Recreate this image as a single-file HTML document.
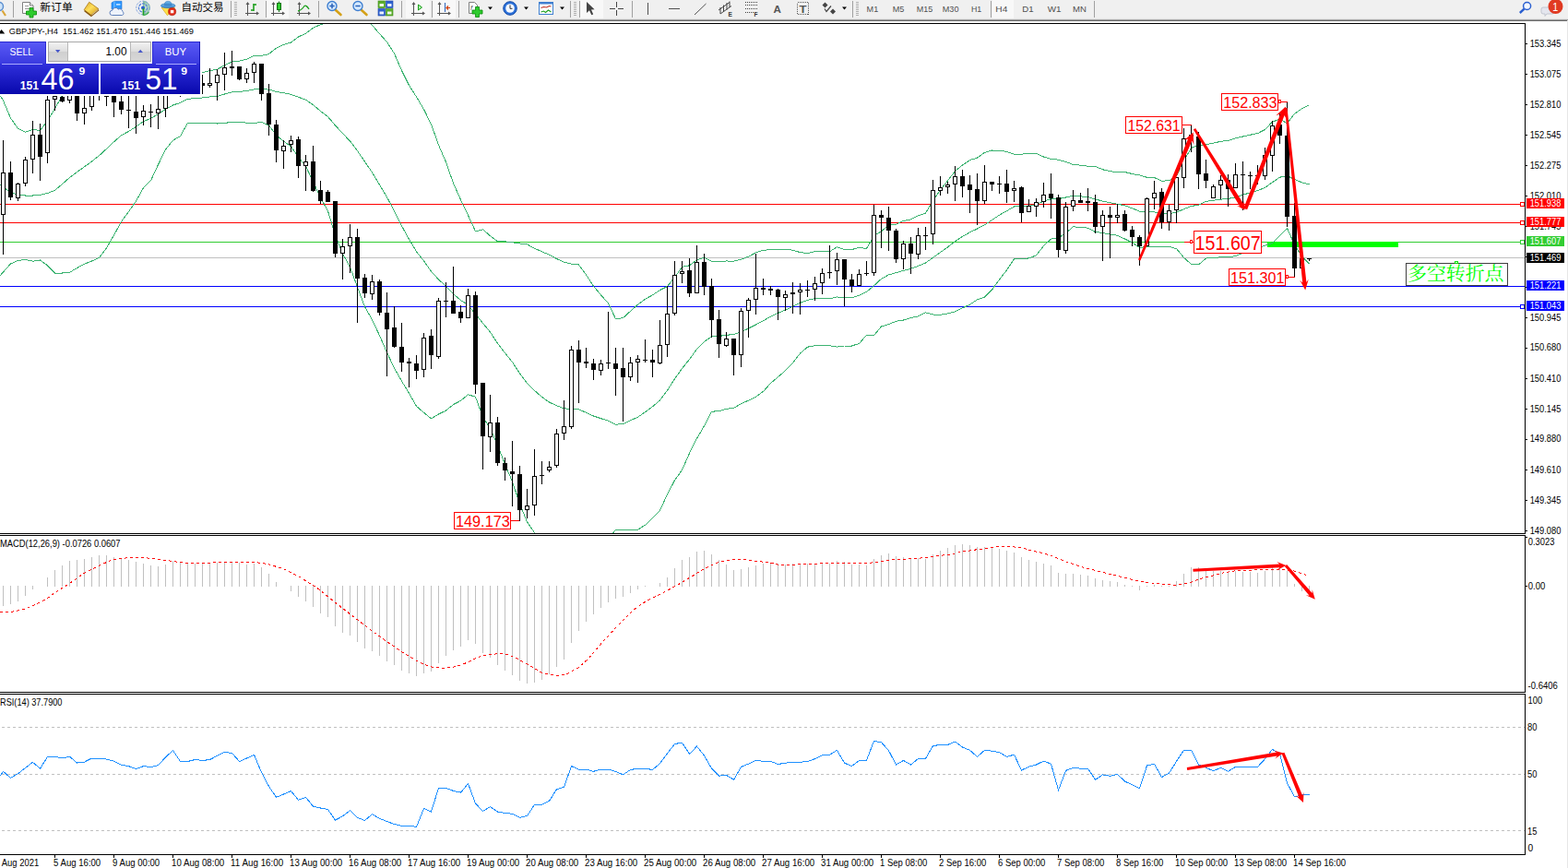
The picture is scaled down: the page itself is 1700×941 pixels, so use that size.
<!DOCTYPE html>
<html><head><meta charset="utf-8"><title>GBPJPY H4</title>
<style>
html,body{margin:0;padding:0;background:#fff;}
body{width:1700px;height:941px;overflow:hidden;position:relative;font-family:"Liberation Sans",sans-serif;}
svg{position:absolute;left:0;top:0;display:block}
svg text{font-family:"Liberation Sans",sans-serif;}
svg text.cjk{font-family:"Liberation Sans","Noto Sans CJK SC",sans-serif;}
svg text.cjkserif{font-family:"Liberation Serif","Noto Serif CJK SC",serif;}
</style></head><body>
<svg width="1700" height="941" viewBox="0 0 1700 941">
<rect x="0" y="0" width="1700" height="941" fill="#fff" />
<g shape-rendering="crispEdges">
<rect x="0" y="221" width="1653" height="1" fill="#ff0000" />
<rect x="0" y="241" width="1653" height="1" fill="#ff0000" />
<rect x="0" y="262" width="1653" height="1" fill="#32cd32" />
<rect x="0" y="279" width="1653" height="1" fill="#c0c0c0" />
<rect x="0" y="310" width="1653" height="1" fill="#0000ff" />
<rect x="0" y="332" width="1653" height="1" fill="#0000ff" />
<rect x="1374" y="262" width="142" height="6" fill="#00ff00" />
</g>
<clipPath id="cm"><rect x="0" y="26" width="1653" height="552"/></clipPath>
<g clip-path="url(#cm)">
<polyline points="0.0,103.0 3.5,109.0 11.5,128.0 19.5,139.4 27.5,143.3 35.5,140.6 43.5,141.3 51.5,131.0 59.5,117.5 67.5,103.7 75.5,95.0 83.5,90.0 91.5,85.0 99.5,80.0 107.5,75.0 115.5,70.0 123.5,68.0 131.5,66.0 139.5,64.0 147.5,62.0 155.5,59.7 163.5,61.0 171.5,68.7 179.5,74.6 187.5,75.7 195.5,75.2 203.5,81.4 211.5,79.8 219.5,78.5 227.5,76.7 235.5,75.1 243.5,70.8 251.5,67.1 259.5,66.1 267.5,64.2 275.5,60.3 283.5,60.3 291.5,58.6 299.5,52.1 307.5,48.4 315.5,46.1 323.5,40.0 331.5,36.2 339.5,30.3 347.5,26.6 355.5,24.3 363.5,16.6 371.5,14.5 379.5,16.3 387.5,15.7 395.5,18.1 403.5,27.4 411.5,36.6 419.5,45.5 427.5,58.0 435.5,76.4 443.5,92.5 451.5,105.1 459.5,118.5 467.5,134.7 475.5,157.1 483.5,175.7 491.5,198.6 499.5,216.6 507.5,233.4 515.5,250.8 523.5,248.8 531.5,255.7 539.5,261.8 547.5,261.9 555.5,262.7 563.5,264.0 571.5,264.9 579.5,269.3 587.5,272.8 595.5,276.2 603.5,280.5 611.5,284.2 619.5,286.1 627.5,287.0 635.5,297.9 643.5,310.3 651.5,319.8 659.5,328.7 667.5,345.7 675.5,344.7 683.5,337.3 691.5,330.3 699.5,324.2 707.5,319.9 715.5,314.5 723.5,310.5 731.5,300.6 739.5,289.4 747.5,287.8 755.5,281.7 763.5,279.2 771.5,283.4 779.5,283.2 787.5,283.0 795.5,283.1 803.5,281.3 811.5,278.2 819.5,273.9 827.5,271.2 835.5,270.7 843.5,270.4 851.5,270.3 859.5,271.2 867.5,273.6 875.5,274.6 883.5,272.7 891.5,272.5 899.5,272.8 907.5,267.7 915.5,270.7 923.5,270.6 931.5,268.2 939.5,269.5 947.5,255.8 955.5,250.7 963.5,244.2 971.5,243.1 979.5,239.5 987.5,237.9 995.5,233.8 1003.5,231.0 1011.5,217.6 1019.5,206.0 1027.5,195.8 1035.5,185.5 1043.5,178.9 1051.5,173.6 1059.5,171.1 1067.5,165.4 1075.5,163.0 1083.5,163.2 1091.5,164.4 1099.5,167.1 1107.5,167.1 1115.5,166.7 1123.5,166.5 1131.5,170.0 1139.5,172.4 1147.5,173.2 1155.5,175.4 1163.5,178.5 1171.5,179.1 1179.5,180.2 1187.5,180.4 1195.5,183.8 1203.5,185.5 1211.5,187.0 1219.5,186.5 1227.5,188.5 1235.5,189.9 1243.5,192.3 1251.5,192.5 1259.5,196.1 1267.5,195.9 1275.5,190.6 1283.5,174.2 1291.5,160.4 1299.5,157.4 1307.5,156.7 1315.5,155.2 1323.5,153.3 1331.5,152.4 1339.5,149.9 1347.5,148.0 1355.5,146.2 1363.5,144.6 1371.5,140.5 1379.5,132.1 1387.5,129.1 1395.5,133.8 1403.5,123.3 1411.5,117.8 1419.5,113.9" fill="none" stroke="#3cb371" stroke-width="1" shape-rendering="crispEdges"/>
<polyline points="0.0,200.4 3.5,203.0 11.5,208.5 19.5,211.0 27.5,212.0 35.5,212.0 43.5,211.4 51.5,209.5 59.5,206.3 67.5,199.5 75.5,192.5 83.5,186.5 91.5,180.8 99.5,175.0 107.5,168.7 115.5,161.3 123.5,153.8 131.5,146.7 139.5,142.5 147.5,137.3 155.5,131.7 163.5,128.4 171.5,123.6 179.5,118.4 187.5,114.0 195.5,111.4 203.5,107.4 211.5,106.6 219.5,106.0 227.5,105.0 235.5,104.6 243.5,102.0 251.5,99.9 259.5,99.4 267.5,98.6 275.5,96.9 283.5,96.4 291.5,97.2 299.5,99.3 307.5,100.8 315.5,102.4 323.5,105.3 331.5,108.1 339.5,113.7 347.5,120.4 355.5,126.6 363.5,135.9 371.5,144.7 379.5,152.9 387.5,163.5 395.5,175.3 403.5,186.9 411.5,200.2 419.5,213.7 427.5,228.6 435.5,244.8 443.5,259.4 451.5,272.8 459.5,282.9 467.5,294.3 475.5,303.0 483.5,310.4 491.5,318.6 499.5,325.5 507.5,330.6 515.5,340.5 523.5,350.4 531.5,360.0 539.5,372.2 547.5,382.7 555.5,392.5 563.5,404.9 571.5,415.4 579.5,423.4 587.5,430.4 595.5,436.0 603.5,439.8 611.5,442.8 619.5,443.5 627.5,443.9 635.5,447.3 643.5,451.0 651.5,453.7 659.5,456.2 667.5,460.1 675.5,459.8 683.5,455.7 691.5,452.3 699.5,446.7 707.5,440.9 715.5,433.9 723.5,423.2 731.5,410.7 739.5,399.5 747.5,389.6 755.5,378.5 763.5,370.5 771.5,364.8 779.5,364.5 787.5,363.2 795.5,362.7 803.5,359.6 811.5,356.1 819.5,352.0 827.5,347.8 835.5,343.1 843.5,339.5 851.5,336.0 859.5,332.3 867.5,328.4 875.5,325.4 883.5,323.7 891.5,323.6 899.5,323.8 907.5,321.9 915.5,322.9 923.5,322.8 931.5,320.3 939.5,316.4 947.5,309.7 955.5,302.3 963.5,297.9 971.5,295.7 979.5,293.3 987.5,291.3 995.5,288.3 1003.5,285.0 1011.5,279.3 1019.5,273.6 1027.5,267.9 1035.5,261.7 1043.5,256.4 1051.5,251.9 1059.5,248.0 1067.5,243.8 1075.5,238.6 1083.5,233.1 1091.5,228.7 1099.5,224.0 1107.5,223.9 1115.5,223.3 1123.5,221.7 1131.5,218.2 1139.5,215.7 1147.5,215.6 1155.5,214.0 1163.5,212.1 1171.5,212.8 1179.5,213.7 1187.5,215.9 1195.5,218.1 1203.5,219.8 1211.5,221.2 1219.5,222.8 1227.5,225.8 1235.5,229.1 1243.5,229.9 1251.5,229.9 1259.5,231.8 1267.5,231.6 1275.5,230.1 1283.5,226.7 1291.5,223.5 1299.5,222.2 1307.5,218.4 1315.5,217.3 1323.5,216.1 1331.5,215.4 1339.5,213.8 1347.5,211.1 1355.5,208.9 1363.5,206.6 1371.5,203.4 1379.5,197.7 1387.5,192.2 1395.5,190.6 1403.5,194.4 1411.5,197.9 1419.5,199.9" fill="none" stroke="#3cb371" stroke-width="1" shape-rendering="crispEdges"/>
<polyline points="0.0,298.8 3.5,295.0 11.5,286.0 19.5,282.5 27.5,281.5 35.5,283.2 43.5,282.0 51.5,287.8 59.5,296.0 67.5,296.0 75.5,295.3 83.5,290.5 91.5,286.2 99.5,283.0 107.5,279.5 115.5,269.0 123.5,255.0 131.5,240.4 139.5,229.5 147.5,218.0 155.5,203.7 163.5,195.8 171.5,178.5 179.5,162.2 187.5,152.2 195.5,147.6 203.5,133.3 211.5,133.4 219.5,133.5 227.5,133.3 235.5,134.0 243.5,133.2 251.5,132.7 259.5,132.7 267.5,133.1 275.5,133.5 283.5,132.5 291.5,135.8 299.5,146.6 307.5,153.2 315.5,158.7 323.5,170.5 331.5,180.1 339.5,197.2 347.5,214.2 355.5,228.8 363.5,255.2 371.5,274.9 379.5,289.5 387.5,311.3 395.5,332.6 403.5,346.5 411.5,363.8 419.5,382.0 427.5,399.2 435.5,413.2 443.5,426.3 451.5,440.4 459.5,447.3 467.5,453.9 475.5,449.0 483.5,445.1 491.5,438.6 499.5,434.4 507.5,427.8 515.5,430.2 523.5,452.1 531.5,464.3 539.5,482.7 547.5,503.4 555.5,522.2 563.5,545.8 571.5,565.9 579.5,577.4 587.5,587.9 595.5,595.9 603.5,599.2 611.5,601.5 619.5,600.9 627.5,600.8 635.5,596.6 643.5,591.6 651.5,587.6 659.5,583.6 667.5,574.6 675.5,574.8 683.5,574.2 691.5,574.2 699.5,569.2 707.5,561.8 715.5,553.3 723.5,535.9 731.5,520.7 739.5,509.6 747.5,491.3 755.5,475.3 763.5,461.8 771.5,446.2 779.5,445.7 787.5,443.4 795.5,442.3 803.5,437.8 811.5,434.1 819.5,430.2 827.5,424.4 835.5,415.5 843.5,408.6 851.5,401.8 859.5,393.5 867.5,383.1 875.5,376.2 883.5,374.7 891.5,374.8 899.5,374.7 907.5,376.1 915.5,375.0 923.5,375.0 931.5,372.4 939.5,363.4 947.5,363.7 955.5,353.9 963.5,351.6 971.5,348.3 979.5,347.0 987.5,344.7 995.5,342.8 1003.5,338.9 1011.5,341.0 1019.5,341.2 1027.5,339.9 1035.5,337.8 1043.5,333.9 1051.5,330.2 1059.5,324.9 1067.5,322.2 1075.5,314.2 1083.5,303.0 1091.5,292.9 1099.5,280.9 1107.5,280.8 1115.5,279.9 1123.5,276.9 1131.5,266.5 1139.5,259.1 1147.5,257.9 1155.5,252.7 1163.5,245.8 1171.5,246.5 1179.5,247.1 1187.5,251.5 1195.5,252.4 1203.5,254.1 1211.5,255.3 1219.5,259.0 1227.5,263.0 1235.5,268.4 1243.5,267.4 1251.5,267.3 1259.5,267.5 1267.5,267.4 1275.5,269.6 1283.5,279.3 1291.5,286.5 1299.5,286.9 1307.5,280.1 1315.5,279.3 1323.5,278.9 1331.5,278.4 1339.5,277.8 1347.5,274.1 1355.5,271.7 1363.5,268.6 1371.5,266.3 1379.5,263.3 1387.5,255.3 1395.5,247.3 1403.5,265.5 1411.5,278.1 1419.5,285.9" fill="none" stroke="#3cb371" stroke-width="1" shape-rendering="crispEdges"/>
</g>
<g shape-rendering="crispEdges">
<rect x="3" y="152" width="1" height="124" fill="#000" />
<rect x="1" y="187" width="5" height="46" fill="#000" />
<rect x="2" y="188" width="3" height="44" fill="#fff" />
<rect x="11" y="175" width="1" height="42" fill="#000" />
<rect x="9" y="187" width="5" height="27" fill="#000" />
<rect x="19" y="198" width="1" height="20" fill="#000" />
<rect x="17" y="199" width="5" height="16" fill="#000" />
<rect x="18" y="200" width="3" height="14" fill="#fff" />
<rect x="27" y="170" width="1" height="32" fill="#000" />
<rect x="25" y="173" width="5" height="26" fill="#000" />
<rect x="26" y="174" width="3" height="24" fill="#fff" />
<rect x="35" y="131" width="1" height="57" fill="#000" />
<rect x="33" y="146" width="5" height="27" fill="#000" />
<rect x="34" y="147" width="3" height="25" fill="#fff" />
<rect x="43" y="134" width="1" height="62" fill="#000" />
<rect x="41" y="146" width="5" height="24" fill="#000" />
<rect x="51" y="60" width="1" height="117" fill="#000" />
<rect x="49" y="108" width="5" height="58" fill="#000" />
<rect x="50" y="109" width="3" height="56" fill="#fff" />
<rect x="59" y="70" width="1" height="50" fill="#000" />
<rect x="57" y="104" width="5" height="4" fill="#000" />
<rect x="58" y="105" width="3" height="2" fill="#fff" />
<rect x="67" y="100" width="1" height="11" fill="#000" />
<rect x="65" y="105" width="5" height="5" fill="#000" />
<rect x="75" y="80" width="1" height="32" fill="#000" />
<rect x="73" y="90" width="5" height="19" fill="#000" />
<rect x="74" y="91" width="3" height="17" fill="#fff" />
<rect x="83" y="85" width="1" height="46" fill="#000" />
<rect x="81" y="90" width="5" height="33" fill="#000" />
<rect x="91" y="95" width="1" height="40" fill="#000" />
<rect x="89" y="117" width="5" height="6" fill="#000" />
<rect x="90" y="118" width="3" height="4" fill="#fff" />
<rect x="99" y="85" width="1" height="35" fill="#000" />
<rect x="97" y="95" width="5" height="21" fill="#000" />
<rect x="98" y="96" width="3" height="19" fill="#fff" />
<rect x="107" y="80" width="1" height="29" fill="#000" />
<rect x="105" y="90" width="5" height="5" fill="#000" />
<rect x="115" y="85" width="1" height="30" fill="#000" />
<rect x="113" y="104" width="5" height="1" fill="#000" />
<rect x="123" y="85" width="1" height="42" fill="#000" />
<rect x="121" y="95" width="5" height="16" fill="#000" />
<rect x="131" y="100" width="1" height="24" fill="#000" />
<rect x="129" y="110" width="5" height="9" fill="#000" />
<rect x="139" y="98" width="1" height="41" fill="#000" />
<rect x="137" y="119" width="5" height="1" fill="#000" />
<rect x="147" y="100" width="1" height="45" fill="#000" />
<rect x="145" y="121" width="5" height="7" fill="#000" />
<rect x="155" y="114" width="1" height="22" fill="#000" />
<rect x="153" y="120" width="5" height="7" fill="#000" />
<rect x="154" y="121" width="3" height="5" fill="#fff" />
<rect x="163" y="113" width="1" height="25" fill="#000" />
<rect x="161" y="121" width="5" height="1" fill="#000" />
<rect x="171" y="95" width="1" height="45" fill="#000" />
<rect x="169" y="118" width="5" height="5" fill="#000" />
<rect x="170" y="119" width="3" height="3" fill="#fff" />
<rect x="179" y="85" width="1" height="42" fill="#000" />
<rect x="177" y="95" width="5" height="23" fill="#000" />
<rect x="178" y="96" width="3" height="21" fill="#fff" />
<rect x="187" y="80" width="1" height="20" fill="#000" />
<rect x="185" y="85" width="5" height="10" fill="#000" />
<rect x="186" y="86" width="3" height="8" fill="#fff" />
<rect x="195" y="75" width="1" height="30" fill="#000" />
<rect x="193" y="85" width="5" height="10" fill="#000" />
<rect x="203" y="78" width="1" height="22" fill="#000" />
<rect x="201" y="88" width="5" height="6" fill="#000" />
<rect x="202" y="89" width="3" height="4" fill="#fff" />
<rect x="211" y="80" width="1" height="20" fill="#000" />
<rect x="209" y="88" width="5" height="4" fill="#000" />
<rect x="219" y="81" width="1" height="21" fill="#000" />
<rect x="217" y="90" width="5" height="3" fill="#000" />
<rect x="227" y="74" width="1" height="21" fill="#000" />
<rect x="225" y="90" width="5" height="3" fill="#000" />
<rect x="226" y="91" width="3" height="1" fill="#fff" />
<rect x="235" y="75" width="1" height="34" fill="#000" />
<rect x="233" y="81" width="5" height="9" fill="#000" />
<rect x="234" y="82" width="3" height="7" fill="#fff" />
<rect x="243" y="57" width="1" height="41" fill="#000" />
<rect x="241" y="73" width="5" height="8" fill="#000" />
<rect x="242" y="74" width="3" height="6" fill="#fff" />
<rect x="251" y="55" width="1" height="27" fill="#000" />
<rect x="249" y="72" width="5" height="2" fill="#000" />
<rect x="259" y="72" width="1" height="15" fill="#000" />
<rect x="257" y="72" width="5" height="14" fill="#000" />
<rect x="267" y="74" width="1" height="16" fill="#000" />
<rect x="265" y="79" width="5" height="7" fill="#000" />
<rect x="266" y="80" width="3" height="5" fill="#fff" />
<rect x="275" y="67" width="1" height="23" fill="#000" />
<rect x="273" y="69" width="5" height="10" fill="#000" />
<rect x="274" y="70" width="3" height="8" fill="#fff" />
<rect x="283" y="69" width="1" height="40" fill="#000" />
<rect x="281" y="69" width="5" height="33" fill="#000" />
<rect x="291" y="91" width="1" height="56" fill="#000" />
<rect x="289" y="101" width="5" height="34" fill="#000" />
<rect x="299" y="130" width="1" height="46" fill="#000" />
<rect x="297" y="135" width="5" height="28" fill="#000" />
<rect x="307" y="152" width="1" height="31" fill="#000" />
<rect x="305" y="158" width="5" height="6" fill="#000" />
<rect x="306" y="159" width="3" height="4" fill="#fff" />
<rect x="315" y="147" width="1" height="18" fill="#000" />
<rect x="313" y="152" width="5" height="5" fill="#000" />
<rect x="314" y="153" width="3" height="3" fill="#fff" />
<rect x="323" y="148" width="1" height="45" fill="#000" />
<rect x="321" y="151" width="5" height="29" fill="#000" />
<rect x="331" y="168" width="1" height="39" fill="#000" />
<rect x="329" y="175" width="5" height="5" fill="#000" />
<rect x="330" y="176" width="3" height="3" fill="#fff" />
<rect x="339" y="158" width="1" height="50" fill="#000" />
<rect x="337" y="175" width="5" height="32" fill="#000" />
<rect x="347" y="196" width="1" height="25" fill="#000" />
<rect x="345" y="206" width="5" height="12" fill="#000" />
<rect x="355" y="206" width="1" height="13" fill="#000" />
<rect x="353" y="208" width="5" height="11" fill="#000" />
<rect x="363" y="218" width="1" height="61" fill="#000" />
<rect x="361" y="218" width="5" height="57" fill="#000" />
<rect x="371" y="259" width="1" height="44" fill="#000" />
<rect x="369" y="267" width="5" height="8" fill="#000" />
<rect x="370" y="268" width="3" height="6" fill="#fff" />
<rect x="379" y="243" width="1" height="53" fill="#000" />
<rect x="377" y="257" width="5" height="10" fill="#000" />
<rect x="378" y="258" width="3" height="8" fill="#fff" />
<rect x="387" y="248" width="1" height="102" fill="#000" />
<rect x="385" y="257" width="5" height="45" fill="#000" />
<rect x="395" y="297" width="1" height="26" fill="#000" />
<rect x="393" y="301" width="5" height="17" fill="#000" />
<rect x="403" y="298" width="1" height="27" fill="#000" />
<rect x="401" y="305" width="5" height="14" fill="#000" />
<rect x="402" y="306" width="3" height="12" fill="#fff" />
<rect x="411" y="303" width="1" height="39" fill="#000" />
<rect x="409" y="305" width="5" height="34" fill="#000" />
<rect x="419" y="317" width="1" height="91" fill="#000" />
<rect x="417" y="339" width="5" height="18" fill="#000" />
<rect x="427" y="332" width="1" height="45" fill="#000" />
<rect x="425" y="355" width="5" height="21" fill="#000" />
<rect x="435" y="350" width="1" height="53" fill="#000" />
<rect x="433" y="376" width="5" height="17" fill="#000" />
<rect x="443" y="388" width="1" height="32" fill="#000" />
<rect x="441" y="392" width="5" height="2" fill="#000" />
<rect x="451" y="385" width="1" height="26" fill="#000" />
<rect x="449" y="394" width="5" height="8" fill="#000" />
<rect x="459" y="361" width="1" height="48" fill="#000" />
<rect x="457" y="366" width="5" height="35" fill="#000" />
<rect x="458" y="367" width="3" height="33" fill="#fff" />
<rect x="467" y="357" width="1" height="43" fill="#000" />
<rect x="465" y="364" width="5" height="21" fill="#000" />
<rect x="475" y="323" width="1" height="66" fill="#000" />
<rect x="473" y="326" width="5" height="61" fill="#000" />
<rect x="474" y="327" width="3" height="59" fill="#fff" />
<rect x="483" y="306" width="1" height="38" fill="#000" />
<rect x="481" y="326" width="5" height="1" fill="#000" />
<rect x="491" y="289" width="1" height="51" fill="#000" />
<rect x="489" y="326" width="5" height="14" fill="#000" />
<rect x="499" y="331" width="1" height="19" fill="#000" />
<rect x="497" y="338" width="5" height="7" fill="#000" />
<rect x="507" y="313" width="1" height="32" fill="#000" />
<rect x="505" y="320" width="5" height="25" fill="#000" />
<rect x="506" y="321" width="3" height="23" fill="#fff" />
<rect x="515" y="316" width="1" height="111" fill="#000" />
<rect x="513" y="320" width="5" height="97" fill="#000" />
<rect x="523" y="415" width="1" height="94" fill="#000" />
<rect x="521" y="415" width="5" height="58" fill="#000" />
<rect x="531" y="428" width="1" height="62" fill="#000" />
<rect x="529" y="458" width="5" height="16" fill="#000" />
<rect x="530" y="459" width="3" height="14" fill="#fff" />
<rect x="539" y="452" width="1" height="53" fill="#000" />
<rect x="537" y="458" width="5" height="44" fill="#000" />
<rect x="547" y="496" width="1" height="25" fill="#000" />
<rect x="545" y="502" width="5" height="8" fill="#000" />
<rect x="555" y="478" width="1" height="71" fill="#000" />
<rect x="553" y="511" width="5" height="3" fill="#000" />
<rect x="563" y="505" width="1" height="60" fill="#000" />
<rect x="561" y="514" width="5" height="39" fill="#000" />
<rect x="571" y="530" width="1" height="32" fill="#000" />
<rect x="569" y="548" width="5" height="5" fill="#000" />
<rect x="570" y="549" width="3" height="3" fill="#fff" />
<rect x="579" y="487" width="1" height="72" fill="#000" />
<rect x="577" y="516" width="5" height="32" fill="#000" />
<rect x="578" y="517" width="3" height="30" fill="#fff" />
<rect x="587" y="500" width="1" height="25" fill="#000" />
<rect x="585" y="515" width="5" height="1" fill="#000" />
<rect x="595" y="500" width="1" height="12" fill="#000" />
<rect x="593" y="506" width="5" height="4" fill="#000" />
<rect x="594" y="507" width="3" height="2" fill="#fff" />
<rect x="603" y="465" width="1" height="42" fill="#000" />
<rect x="601" y="470" width="5" height="35" fill="#000" />
<rect x="602" y="471" width="3" height="33" fill="#fff" />
<rect x="611" y="434" width="1" height="43" fill="#000" />
<rect x="609" y="462" width="5" height="8" fill="#000" />
<rect x="610" y="463" width="3" height="6" fill="#fff" />
<rect x="619" y="375" width="1" height="90" fill="#000" />
<rect x="617" y="379" width="5" height="84" fill="#000" />
<rect x="618" y="380" width="3" height="82" fill="#fff" />
<rect x="627" y="369" width="1" height="68" fill="#000" />
<rect x="625" y="379" width="5" height="14" fill="#000" />
<rect x="635" y="377" width="1" height="22" fill="#000" />
<rect x="633" y="392" width="5" height="2" fill="#000" />
<rect x="643" y="389" width="1" height="23" fill="#000" />
<rect x="641" y="394" width="5" height="7" fill="#000" />
<rect x="651" y="390" width="1" height="17" fill="#000" />
<rect x="649" y="394" width="5" height="8" fill="#000" />
<rect x="650" y="395" width="3" height="6" fill="#fff" />
<rect x="659" y="338" width="1" height="62" fill="#000" />
<rect x="657" y="393" width="5" height="1" fill="#000" />
<rect x="667" y="377" width="1" height="52" fill="#000" />
<rect x="665" y="394" width="5" height="6" fill="#000" />
<rect x="675" y="377" width="1" height="80" fill="#000" />
<rect x="673" y="399" width="5" height="10" fill="#000" />
<rect x="683" y="387" width="1" height="26" fill="#000" />
<rect x="681" y="393" width="5" height="16" fill="#000" />
<rect x="682" y="394" width="3" height="14" fill="#fff" />
<rect x="691" y="385" width="1" height="30" fill="#000" />
<rect x="689" y="389" width="5" height="4" fill="#000" />
<rect x="690" y="390" width="3" height="2" fill="#fff" />
<rect x="699" y="368" width="1" height="25" fill="#000" />
<rect x="697" y="390" width="5" height="1" fill="#000" />
<rect x="707" y="379" width="1" height="30" fill="#000" />
<rect x="705" y="390" width="5" height="3" fill="#000" />
<rect x="715" y="347" width="1" height="48" fill="#000" />
<rect x="713" y="374" width="5" height="20" fill="#000" />
<rect x="714" y="375" width="3" height="18" fill="#fff" />
<rect x="723" y="310" width="1" height="77" fill="#000" />
<rect x="721" y="340" width="5" height="34" fill="#000" />
<rect x="722" y="341" width="3" height="32" fill="#fff" />
<rect x="731" y="283" width="1" height="59" fill="#000" />
<rect x="729" y="298" width="5" height="42" fill="#000" />
<rect x="730" y="299" width="3" height="40" fill="#fff" />
<rect x="739" y="283" width="1" height="24" fill="#000" />
<rect x="737" y="294" width="5" height="3" fill="#000" />
<rect x="738" y="295" width="3" height="1" fill="#fff" />
<rect x="747" y="280" width="1" height="42" fill="#000" />
<rect x="745" y="293" width="5" height="25" fill="#000" />
<rect x="755" y="266" width="1" height="52" fill="#000" />
<rect x="753" y="284" width="5" height="34" fill="#000" />
<rect x="754" y="285" width="3" height="32" fill="#fff" />
<rect x="763" y="275" width="1" height="45" fill="#000" />
<rect x="761" y="284" width="5" height="27" fill="#000" />
<rect x="771" y="302" width="1" height="64" fill="#000" />
<rect x="769" y="310" width="5" height="37" fill="#000" />
<rect x="779" y="336" width="1" height="52" fill="#000" />
<rect x="777" y="346" width="5" height="27" fill="#000" />
<rect x="787" y="360" width="1" height="16" fill="#000" />
<rect x="785" y="367" width="5" height="8" fill="#000" />
<rect x="786" y="368" width="3" height="6" fill="#fff" />
<rect x="795" y="367" width="1" height="40" fill="#000" />
<rect x="793" y="367" width="5" height="18" fill="#000" />
<rect x="803" y="334" width="1" height="64" fill="#000" />
<rect x="801" y="337" width="5" height="48" fill="#000" />
<rect x="802" y="338" width="3" height="46" fill="#fff" />
<rect x="811" y="323" width="1" height="43" fill="#000" />
<rect x="809" y="325" width="5" height="12" fill="#000" />
<rect x="810" y="326" width="3" height="10" fill="#fff" />
<rect x="819" y="275" width="1" height="66" fill="#000" />
<rect x="817" y="312" width="5" height="13" fill="#000" />
<rect x="818" y="313" width="3" height="11" fill="#fff" />
<rect x="827" y="302" width="1" height="18" fill="#000" />
<rect x="825" y="312" width="5" height="2" fill="#000" />
<rect x="835" y="310" width="1" height="10" fill="#000" />
<rect x="833" y="313" width="5" height="2" fill="#000" />
<rect x="843" y="313" width="1" height="34" fill="#000" />
<rect x="841" y="314" width="5" height="8" fill="#000" />
<rect x="851" y="315" width="1" height="22" fill="#000" />
<rect x="849" y="319" width="5" height="4" fill="#000" />
<rect x="850" y="320" width="3" height="2" fill="#fff" />
<rect x="859" y="306" width="1" height="34" fill="#000" />
<rect x="857" y="317" width="5" height="2" fill="#000" />
<rect x="867" y="307" width="1" height="34" fill="#000" />
<rect x="865" y="314" width="5" height="3" fill="#000" />
<rect x="866" y="315" width="3" height="1" fill="#fff" />
<rect x="875" y="304" width="1" height="18" fill="#000" />
<rect x="873" y="314" width="5" height="1" fill="#000" />
<rect x="883" y="300" width="1" height="26" fill="#000" />
<rect x="881" y="307" width="5" height="7" fill="#000" />
<rect x="882" y="308" width="3" height="5" fill="#fff" />
<rect x="891" y="291" width="1" height="28" fill="#000" />
<rect x="889" y="296" width="5" height="11" fill="#000" />
<rect x="890" y="297" width="3" height="9" fill="#fff" />
<rect x="899" y="266" width="1" height="36" fill="#000" />
<rect x="897" y="295" width="5" height="1" fill="#000" />
<rect x="907" y="274" width="1" height="35" fill="#000" />
<rect x="905" y="281" width="5" height="13" fill="#000" />
<rect x="906" y="282" width="3" height="11" fill="#fff" />
<rect x="915" y="281" width="1" height="51" fill="#000" />
<rect x="913" y="281" width="5" height="22" fill="#000" />
<rect x="923" y="297" width="1" height="20" fill="#000" />
<rect x="921" y="303" width="5" height="7" fill="#000" />
<rect x="931" y="292" width="1" height="18" fill="#000" />
<rect x="929" y="297" width="5" height="13" fill="#000" />
<rect x="930" y="298" width="3" height="11" fill="#fff" />
<rect x="939" y="283" width="1" height="16" fill="#000" />
<rect x="937" y="296" width="5" height="1" fill="#000" />
<rect x="947" y="222" width="1" height="77" fill="#000" />
<rect x="945" y="233" width="5" height="63" fill="#000" />
<rect x="946" y="234" width="3" height="61" fill="#fff" />
<rect x="955" y="228" width="1" height="41" fill="#000" />
<rect x="953" y="233" width="5" height="3" fill="#000" />
<rect x="963" y="224" width="1" height="48" fill="#000" />
<rect x="961" y="236" width="5" height="14" fill="#000" />
<rect x="971" y="248" width="1" height="37" fill="#000" />
<rect x="969" y="250" width="5" height="31" fill="#000" />
<rect x="979" y="261" width="1" height="31" fill="#000" />
<rect x="977" y="264" width="5" height="17" fill="#000" />
<rect x="978" y="265" width="3" height="15" fill="#fff" />
<rect x="987" y="257" width="1" height="40" fill="#000" />
<rect x="985" y="264" width="5" height="11" fill="#000" />
<rect x="995" y="247" width="1" height="34" fill="#000" />
<rect x="993" y="255" width="5" height="21" fill="#000" />
<rect x="994" y="256" width="3" height="19" fill="#fff" />
<rect x="1003" y="246" width="1" height="25" fill="#000" />
<rect x="1001" y="255" width="5" height="1" fill="#000" />
<rect x="1011" y="195" width="1" height="70" fill="#000" />
<rect x="1009" y="206" width="5" height="48" fill="#000" />
<rect x="1010" y="207" width="3" height="46" fill="#fff" />
<rect x="1019" y="191" width="1" height="21" fill="#000" />
<rect x="1017" y="203" width="5" height="4" fill="#000" />
<rect x="1018" y="204" width="3" height="2" fill="#fff" />
<rect x="1027" y="197" width="1" height="13" fill="#000" />
<rect x="1025" y="200" width="5" height="3" fill="#000" />
<rect x="1026" y="201" width="3" height="1" fill="#fff" />
<rect x="1035" y="180" width="1" height="38" fill="#000" />
<rect x="1033" y="191" width="5" height="9" fill="#000" />
<rect x="1034" y="192" width="3" height="7" fill="#fff" />
<rect x="1043" y="184" width="1" height="30" fill="#000" />
<rect x="1041" y="191" width="5" height="11" fill="#000" />
<rect x="1051" y="190" width="1" height="41" fill="#000" />
<rect x="1049" y="200" width="5" height="6" fill="#000" />
<rect x="1059" y="188" width="1" height="56" fill="#000" />
<rect x="1057" y="205" width="5" height="13" fill="#000" />
<rect x="1067" y="179" width="1" height="42" fill="#000" />
<rect x="1065" y="197" width="5" height="21" fill="#000" />
<rect x="1066" y="198" width="3" height="19" fill="#fff" />
<rect x="1075" y="197" width="1" height="10" fill="#000" />
<rect x="1073" y="197" width="5" height="3" fill="#000" />
<rect x="1083" y="191" width="1" height="19" fill="#000" />
<rect x="1081" y="199" width="5" height="1" fill="#000" />
<rect x="1091" y="184" width="1" height="36" fill="#000" />
<rect x="1089" y="199" width="5" height="9" fill="#000" />
<rect x="1099" y="196" width="1" height="23" fill="#000" />
<rect x="1097" y="204" width="5" height="3" fill="#000" />
<rect x="1098" y="205" width="3" height="1" fill="#fff" />
<rect x="1107" y="202" width="1" height="39" fill="#000" />
<rect x="1105" y="203" width="5" height="28" fill="#000" />
<rect x="1115" y="216" width="1" height="14" fill="#000" />
<rect x="1113" y="223" width="5" height="7" fill="#000" />
<rect x="1114" y="224" width="3" height="5" fill="#fff" />
<rect x="1123" y="215" width="1" height="20" fill="#000" />
<rect x="1121" y="219" width="5" height="5" fill="#000" />
<rect x="1122" y="220" width="3" height="3" fill="#fff" />
<rect x="1131" y="198" width="1" height="27" fill="#000" />
<rect x="1129" y="211" width="5" height="8" fill="#000" />
<rect x="1130" y="212" width="3" height="6" fill="#fff" />
<rect x="1139" y="188" width="1" height="49" fill="#000" />
<rect x="1137" y="210" width="5" height="5" fill="#000" />
<rect x="1147" y="211" width="1" height="68" fill="#000" />
<rect x="1145" y="214" width="5" height="57" fill="#000" />
<rect x="1155" y="219" width="1" height="56" fill="#000" />
<rect x="1153" y="224" width="5" height="48" fill="#000" />
<rect x="1154" y="225" width="3" height="46" fill="#fff" />
<rect x="1163" y="206" width="1" height="23" fill="#000" />
<rect x="1161" y="217" width="5" height="7" fill="#000" />
<rect x="1162" y="218" width="3" height="5" fill="#fff" />
<rect x="1171" y="209" width="1" height="11" fill="#000" />
<rect x="1169" y="217" width="5" height="3" fill="#000" />
<rect x="1179" y="204" width="1" height="25" fill="#000" />
<rect x="1177" y="218" width="5" height="2" fill="#000" />
<rect x="1187" y="211" width="1" height="42" fill="#000" />
<rect x="1185" y="219" width="5" height="27" fill="#000" />
<rect x="1195" y="228" width="1" height="55" fill="#000" />
<rect x="1193" y="233" width="5" height="13" fill="#000" />
<rect x="1194" y="234" width="3" height="11" fill="#fff" />
<rect x="1203" y="224" width="1" height="56" fill="#000" />
<rect x="1201" y="233" width="5" height="3" fill="#000" />
<rect x="1211" y="221" width="1" height="21" fill="#000" />
<rect x="1209" y="233" width="5" height="3" fill="#000" />
<rect x="1210" y="234" width="3" height="1" fill="#fff" />
<rect x="1219" y="228" width="1" height="23" fill="#000" />
<rect x="1217" y="232" width="5" height="18" fill="#000" />
<rect x="1227" y="245" width="1" height="22" fill="#000" />
<rect x="1225" y="249" width="5" height="8" fill="#000" />
<rect x="1235" y="255" width="1" height="33" fill="#000" />
<rect x="1233" y="257" width="5" height="10" fill="#000" />
<rect x="1243" y="214" width="1" height="53" fill="#000" />
<rect x="1241" y="215" width="5" height="52" fill="#000" />
<rect x="1242" y="216" width="3" height="50" fill="#fff" />
<rect x="1251" y="196" width="1" height="31" fill="#000" />
<rect x="1249" y="209" width="5" height="6" fill="#000" />
<rect x="1250" y="210" width="3" height="4" fill="#fff" />
<rect x="1259" y="204" width="1" height="44" fill="#000" />
<rect x="1257" y="208" width="5" height="33" fill="#000" />
<rect x="1267" y="222" width="1" height="28" fill="#000" />
<rect x="1265" y="228" width="5" height="13" fill="#000" />
<rect x="1266" y="229" width="3" height="11" fill="#fff" />
<rect x="1275" y="192" width="1" height="50" fill="#000" />
<rect x="1273" y="192" width="5" height="36" fill="#000" />
<rect x="1274" y="193" width="3" height="34" fill="#fff" />
<rect x="1283" y="139" width="1" height="65" fill="#000" />
<rect x="1281" y="150" width="5" height="43" fill="#000" />
<rect x="1282" y="151" width="3" height="41" fill="#fff" />
<rect x="1291" y="136" width="1" height="29" fill="#000" />
<rect x="1289" y="146" width="5" height="2" fill="#000" />
<rect x="1299" y="143" width="1" height="62" fill="#000" />
<rect x="1297" y="148" width="5" height="41" fill="#000" />
<rect x="1307" y="173" width="1" height="31" fill="#000" />
<rect x="1305" y="188" width="5" height="8" fill="#000" />
<rect x="1315" y="200" width="1" height="15" fill="#000" />
<rect x="1313" y="202" width="5" height="13" fill="#000" />
<rect x="1314" y="203" width="3" height="11" fill="#fff" />
<rect x="1323" y="190" width="1" height="26" fill="#000" />
<rect x="1321" y="195" width="5" height="6" fill="#000" />
<rect x="1322" y="196" width="3" height="4" fill="#fff" />
<rect x="1331" y="189" width="1" height="35" fill="#000" />
<rect x="1329" y="195" width="5" height="10" fill="#000" />
<rect x="1339" y="177" width="1" height="27" fill="#000" />
<rect x="1337" y="189" width="5" height="15" fill="#000" />
<rect x="1338" y="190" width="3" height="13" fill="#fff" />
<rect x="1347" y="175" width="1" height="53" fill="#000" />
<rect x="1345" y="189" width="5" height="1" fill="#000" />
<rect x="1355" y="186" width="1" height="19" fill="#000" />
<rect x="1353" y="190" width="5" height="1" fill="#000" />
<rect x="1363" y="179" width="1" height="21" fill="#000" />
<rect x="1361" y="190" width="5" height="1" fill="#000" />
<rect x="1371" y="160" width="1" height="35" fill="#000" />
<rect x="1369" y="168" width="5" height="23" fill="#000" />
<rect x="1370" y="169" width="3" height="21" fill="#fff" />
<rect x="1379" y="131" width="1" height="55" fill="#000" />
<rect x="1377" y="136" width="5" height="33" fill="#000" />
<rect x="1378" y="137" width="3" height="31" fill="#fff" />
<rect x="1387" y="123" width="1" height="33" fill="#000" />
<rect x="1385" y="135" width="5" height="12" fill="#000" />
<rect x="1395" y="110" width="1" height="136" fill="#000" />
<rect x="1393" y="147" width="5" height="88" fill="#000" />
<rect x="1403" y="220" width="1" height="80" fill="#000" />
<rect x="1401" y="234" width="5" height="57" fill="#000" />
<rect x="1411" y="278" width="1" height="15" fill="#000" />
<rect x="1409" y="280" width="5" height="11" fill="#000" />
<rect x="1410" y="281" width="3" height="9" fill="#fff" />
<rect x="1419" y="280" width="1" height="3" fill="#000" />
<rect x="1417" y="280" width="5" height="1" fill="#000" />
</g>
<rect x="492.5" y="555.5" width="61" height="18" fill="#fff" stroke="#ff0000" stroke-width="1" shape-rendering="crispEdges"/>
<text x="493.96" y="570.9" font-size="17.1512" fill="#ff0000" textLength="58.8558" lengthAdjust="spacingAndGlyphs" >149.173</text>
<rect x="554" y="564" width="9" height="1" fill="#ff0000" shape-rendering="crispEdges"/>
<rect x="1220.5" y="126.5" width="61" height="18" fill="#fff" stroke="#ff0000" stroke-width="1" shape-rendering="crispEdges"/>
<text x="1222.4" y="141.9" font-size="17.1512" fill="#ff0000" textLength="57.1772" lengthAdjust="spacingAndGlyphs" >152.631</text>
<rect x="1282" y="135" width="10" height="1" fill="#ff0000" shape-rendering="crispEdges"/>
<rect x="1324.5" y="101.5" width="61" height="18" fill="#fff" stroke="#ff0000" stroke-width="1" shape-rendering="crispEdges"/>
<text x="1326.17" y="116.9" font-size="17.1512" fill="#ff0000" textLength="58.442" lengthAdjust="spacingAndGlyphs" >152.833</text>
<rect x="1386" y="110" width="10" height="1" fill="#ff0000" shape-rendering="crispEdges"/>
<rect x="1386.5" y="108.5" width="2" height="3" fill="#fff" stroke="#ff0000" stroke-width="1" shape-rendering="crispEdges"/>
<rect x="1284" y="262" width="10" height="1" fill="#ff0000" shape-rendering="crispEdges"/>
<rect x="1290.5" y="260.5" width="2" height="3" fill="#fff" stroke="#ff0000" stroke-width="1" shape-rendering="crispEdges"/>
<rect x="1294.5" y="250.5" width="73" height="24" fill="#fff" stroke="#ff0000" stroke-width="1" shape-rendering="crispEdges"/>
<text x="1295.5" y="271" font-size="21.3663" fill="#ff0000" textLength="71.2943" lengthAdjust="spacingAndGlyphs" >151.607</text>
<rect x="1332.5" y="291.5" width="61" height="18" fill="#fff" stroke="#ff0000" stroke-width="1" shape-rendering="crispEdges"/>
<text x="1334.07" y="306.9" font-size="17.1512" fill="#ff0000" textLength="58.4202" lengthAdjust="spacingAndGlyphs" >151.301</text>
<rect x="1394" y="300" width="10" height="1" fill="#ff0000" shape-rendering="crispEdges"/>
<rect x="1394.5" y="298.5" width="2" height="3" fill="#fff" stroke="#ff0000" stroke-width="1" shape-rendering="crispEdges"/>
<rect x="1524.5" y="285.5" width="110" height="24" fill="#fff" stroke="#404040" stroke-width="1" shape-rendering="crispEdges"/>
<rect x="1577.5" y="283.5" width="3" height="2" fill="#fff" stroke="#00e000" stroke-width="1" shape-rendering="crispEdges"/>
<text class="cjkserif" x="1526" y="304.2" font-size="20.6" fill="#00ff00" textLength="104.5" lengthAdjust="spacingAndGlyphs">多空转折点</text>
<polygon points="1236.4,282.6 1292.4,152.4 1294.3,156.8 1293.6,143.5 1283.6,152.3 1288.1,150.6 1234.0,281.6" fill="#ff0000"/>
<polygon points="1293.9,140.4 1344.1,223.6 1340.8,222.7 1349.6,227.8 1348.9,217.6 1348.2,221.0 1296.1,139.0" fill="#ff0000"/>
<polygon points="1352.1,227.2 1392.6,125.0 1394.9,129.8 1393.9,115.4 1383.4,125.2 1388.3,123.3 1348.3,225.8" fill="#ff0000"/>
<polygon points="1392.9,117.1 1412.2,306.6 1409.3,303.7 1415.2,314.6 1418.7,302.7 1416.4,306.1 1395.5,116.9" fill="#ff0000"/>
<g shape-rendering="crispEdges">
<rect x="3" y="635" width="1" height="22" fill="#c0c0c0" />
<rect x="11" y="635" width="1" height="20" fill="#c0c0c0" />
<rect x="19" y="635" width="1" height="17" fill="#c0c0c0" />
<rect x="27" y="635" width="1" height="11" fill="#c0c0c0" />
<rect x="35" y="635" width="1" height="4" fill="#c0c0c0" />
<rect x="51" y="626" width="1" height="10" fill="#c0c0c0" />
<rect x="59" y="618" width="1" height="18" fill="#c0c0c0" />
<rect x="67" y="613" width="1" height="23" fill="#c0c0c0" />
<rect x="75" y="608" width="1" height="28" fill="#c0c0c0" />
<rect x="83" y="607" width="1" height="29" fill="#c0c0c0" />
<rect x="91" y="606" width="1" height="30" fill="#c0c0c0" />
<rect x="99" y="604" width="1" height="32" fill="#c0c0c0" />
<rect x="107" y="602" width="1" height="34" fill="#c0c0c0" />
<rect x="115" y="602" width="1" height="34" fill="#c0c0c0" />
<rect x="123" y="604" width="1" height="32" fill="#c0c0c0" />
<rect x="131" y="605" width="1" height="31" fill="#c0c0c0" />
<rect x="139" y="607" width="1" height="29" fill="#c0c0c0" />
<rect x="147" y="609" width="1" height="27" fill="#c0c0c0" />
<rect x="155" y="611" width="1" height="25" fill="#c0c0c0" />
<rect x="163" y="613" width="1" height="23" fill="#c0c0c0" />
<rect x="171" y="614" width="1" height="22" fill="#c0c0c0" />
<rect x="179" y="612" width="1" height="24" fill="#c0c0c0" />
<rect x="187" y="608" width="1" height="28" fill="#c0c0c0" />
<rect x="195" y="609" width="1" height="27" fill="#c0c0c0" />
<rect x="203" y="610" width="1" height="26" fill="#c0c0c0" />
<rect x="211" y="611" width="1" height="25" fill="#c0c0c0" />
<rect x="219" y="611" width="1" height="25" fill="#c0c0c0" />
<rect x="227" y="611" width="1" height="25" fill="#c0c0c0" />
<rect x="235" y="610" width="1" height="26" fill="#c0c0c0" />
<rect x="243" y="609" width="1" height="27" fill="#c0c0c0" />
<rect x="251" y="609" width="1" height="27" fill="#c0c0c0" />
<rect x="259" y="610" width="1" height="26" fill="#c0c0c0" />
<rect x="267" y="612" width="1" height="24" fill="#c0c0c0" />
<rect x="275" y="611" width="1" height="25" fill="#c0c0c0" />
<rect x="283" y="615" width="1" height="21" fill="#c0c0c0" />
<rect x="291" y="622" width="1" height="14" fill="#c0c0c0" />
<rect x="299" y="631" width="1" height="5" fill="#c0c0c0" />
<rect x="315" y="635" width="1" height="6" fill="#c0c0c0" />
<rect x="323" y="635" width="1" height="12" fill="#c0c0c0" />
<rect x="331" y="635" width="1" height="17" fill="#c0c0c0" />
<rect x="339" y="635" width="1" height="23" fill="#c0c0c0" />
<rect x="347" y="635" width="1" height="30" fill="#c0c0c0" />
<rect x="355" y="635" width="1" height="34" fill="#c0c0c0" />
<rect x="363" y="635" width="1" height="44" fill="#c0c0c0" />
<rect x="371" y="635" width="1" height="51" fill="#c0c0c0" />
<rect x="379" y="635" width="1" height="54" fill="#c0c0c0" />
<rect x="387" y="635" width="1" height="61" fill="#c0c0c0" />
<rect x="395" y="635" width="1" height="68" fill="#c0c0c0" />
<rect x="403" y="635" width="1" height="71" fill="#c0c0c0" />
<rect x="411" y="635" width="1" height="76" fill="#c0c0c0" />
<rect x="419" y="635" width="1" height="82" fill="#c0c0c0" />
<rect x="427" y="635" width="1" height="86" fill="#c0c0c0" />
<rect x="435" y="635" width="1" height="92" fill="#c0c0c0" />
<rect x="443" y="635" width="1" height="95" fill="#c0c0c0" />
<rect x="451" y="635" width="1" height="98" fill="#c0c0c0" />
<rect x="459" y="635" width="1" height="95" fill="#c0c0c0" />
<rect x="467" y="635" width="1" height="93" fill="#c0c0c0" />
<rect x="475" y="635" width="1" height="84" fill="#c0c0c0" />
<rect x="483" y="635" width="1" height="76" fill="#c0c0c0" />
<rect x="491" y="635" width="1" height="70" fill="#c0c0c0" />
<rect x="499" y="635" width="1" height="66" fill="#c0c0c0" />
<rect x="507" y="635" width="1" height="59" fill="#c0c0c0" />
<rect x="515" y="635" width="1" height="63" fill="#c0c0c0" />
<rect x="523" y="635" width="1" height="73" fill="#c0c0c0" />
<rect x="531" y="635" width="1" height="78" fill="#c0c0c0" />
<rect x="539" y="635" width="1" height="86" fill="#c0c0c0" />
<rect x="547" y="635" width="1" height="92" fill="#c0c0c0" />
<rect x="555" y="635" width="1" height="97" fill="#c0c0c0" />
<rect x="563" y="635" width="1" height="103" fill="#c0c0c0" />
<rect x="571" y="635" width="1" height="106" fill="#c0c0c0" />
<rect x="579" y="635" width="1" height="105" fill="#c0c0c0" />
<rect x="587" y="635" width="1" height="102" fill="#c0c0c0" />
<rect x="595" y="635" width="1" height="96" fill="#c0c0c0" />
<rect x="603" y="635" width="1" height="88" fill="#c0c0c0" />
<rect x="611" y="635" width="1" height="80" fill="#c0c0c0" />
<rect x="619" y="635" width="1" height="62" fill="#c0c0c0" />
<rect x="627" y="635" width="1" height="49" fill="#c0c0c0" />
<rect x="635" y="635" width="1" height="39" fill="#c0c0c0" />
<rect x="643" y="635" width="1" height="31" fill="#c0c0c0" />
<rect x="651" y="635" width="1" height="24" fill="#c0c0c0" />
<rect x="659" y="635" width="1" height="18" fill="#c0c0c0" />
<rect x="667" y="635" width="1" height="14" fill="#c0c0c0" />
<rect x="675" y="635" width="1" height="12" fill="#c0c0c0" />
<rect x="683" y="635" width="1" height="8" fill="#c0c0c0" />
<rect x="691" y="635" width="1" height="4" fill="#c0c0c0" />
<rect x="699" y="635" width="1" height="1" fill="#c0c0c0" />
<rect x="715" y="632" width="1" height="4" fill="#c0c0c0" />
<rect x="723" y="626" width="1" height="10" fill="#c0c0c0" />
<rect x="731" y="616" width="1" height="20" fill="#c0c0c0" />
<rect x="739" y="607" width="1" height="29" fill="#c0c0c0" />
<rect x="747" y="604" width="1" height="32" fill="#c0c0c0" />
<rect x="755" y="598" width="1" height="38" fill="#c0c0c0" />
<rect x="763" y="597" width="1" height="39" fill="#c0c0c0" />
<rect x="771" y="601" width="1" height="35" fill="#c0c0c0" />
<rect x="779" y="607" width="1" height="29" fill="#c0c0c0" />
<rect x="787" y="612" width="1" height="24" fill="#c0c0c0" />
<rect x="795" y="618" width="1" height="18" fill="#c0c0c0" />
<rect x="803" y="617" width="1" height="19" fill="#c0c0c0" />
<rect x="811" y="615" width="1" height="21" fill="#c0c0c0" />
<rect x="819" y="613" width="1" height="23" fill="#c0c0c0" />
<rect x="827" y="611" width="1" height="25" fill="#c0c0c0" />
<rect x="835" y="610" width="1" height="26" fill="#c0c0c0" />
<rect x="843" y="611" width="1" height="25" fill="#c0c0c0" />
<rect x="851" y="612" width="1" height="24" fill="#c0c0c0" />
<rect x="859" y="611" width="1" height="25" fill="#c0c0c0" />
<rect x="867" y="612" width="1" height="24" fill="#c0c0c0" />
<rect x="875" y="611" width="1" height="25" fill="#c0c0c0" />
<rect x="883" y="612" width="1" height="24" fill="#c0c0c0" />
<rect x="891" y="610" width="1" height="26" fill="#c0c0c0" />
<rect x="899" y="611" width="1" height="25" fill="#c0c0c0" />
<rect x="907" y="608" width="1" height="28" fill="#c0c0c0" />
<rect x="915" y="609" width="1" height="27" fill="#c0c0c0" />
<rect x="923" y="612" width="1" height="24" fill="#c0c0c0" />
<rect x="931" y="612" width="1" height="24" fill="#c0c0c0" />
<rect x="939" y="613" width="1" height="23" fill="#c0c0c0" />
<rect x="947" y="606" width="1" height="30" fill="#c0c0c0" />
<rect x="955" y="602" width="1" height="34" fill="#c0c0c0" />
<rect x="963" y="600" width="1" height="36" fill="#c0c0c0" />
<rect x="971" y="603" width="1" height="33" fill="#c0c0c0" />
<rect x="979" y="604" width="1" height="32" fill="#c0c0c0" />
<rect x="987" y="606" width="1" height="30" fill="#c0c0c0" />
<rect x="995" y="605" width="1" height="31" fill="#c0c0c0" />
<rect x="1003" y="606" width="1" height="30" fill="#c0c0c0" />
<rect x="1011" y="601" width="1" height="35" fill="#c0c0c0" />
<rect x="1019" y="597" width="1" height="39" fill="#c0c0c0" />
<rect x="1027" y="594" width="1" height="42" fill="#c0c0c0" />
<rect x="1035" y="591" width="1" height="45" fill="#c0c0c0" />
<rect x="1043" y="590" width="1" height="46" fill="#c0c0c0" />
<rect x="1051" y="591" width="1" height="45" fill="#c0c0c0" />
<rect x="1059" y="593" width="1" height="43" fill="#c0c0c0" />
<rect x="1067" y="593" width="1" height="43" fill="#c0c0c0" />
<rect x="1075" y="594" width="1" height="42" fill="#c0c0c0" />
<rect x="1083" y="595" width="1" height="41" fill="#c0c0c0" />
<rect x="1091" y="597" width="1" height="39" fill="#c0c0c0" />
<rect x="1099" y="599" width="1" height="37" fill="#c0c0c0" />
<rect x="1107" y="604" width="1" height="32" fill="#c0c0c0" />
<rect x="1115" y="607" width="1" height="29" fill="#c0c0c0" />
<rect x="1123" y="609" width="1" height="27" fill="#c0c0c0" />
<rect x="1131" y="611" width="1" height="25" fill="#c0c0c0" />
<rect x="1139" y="613" width="1" height="23" fill="#c0c0c0" />
<rect x="1147" y="621" width="1" height="15" fill="#c0c0c0" />
<rect x="1155" y="622" width="1" height="14" fill="#c0c0c0" />
<rect x="1163" y="622" width="1" height="14" fill="#c0c0c0" />
<rect x="1171" y="623" width="1" height="13" fill="#c0c0c0" />
<rect x="1179" y="624" width="1" height="12" fill="#c0c0c0" />
<rect x="1187" y="627" width="1" height="9" fill="#c0c0c0" />
<rect x="1195" y="629" width="1" height="7" fill="#c0c0c0" />
<rect x="1203" y="630" width="1" height="6" fill="#c0c0c0" />
<rect x="1211" y="631" width="1" height="5" fill="#c0c0c0" />
<rect x="1219" y="634" width="1" height="2" fill="#c0c0c0" />
<rect x="1227" y="635" width="1" height="1" fill="#c0c0c0" />
<rect x="1235" y="635" width="1" height="5" fill="#c0c0c0" />
<rect x="1243" y="635" width="1" height="1" fill="#c0c0c0" />
<rect x="1251" y="634" width="1" height="2" fill="#c0c0c0" />
<rect x="1259" y="635" width="1" height="1" fill="#c0c0c0" />
<rect x="1267" y="635" width="1" height="1" fill="#c0c0c0" />
<rect x="1275" y="630" width="1" height="6" fill="#c0c0c0" />
<rect x="1283" y="622" width="1" height="14" fill="#c0c0c0" />
<rect x="1291" y="615" width="1" height="21" fill="#c0c0c0" />
<rect x="1299" y="615" width="1" height="21" fill="#c0c0c0" />
<rect x="1307" y="617" width="1" height="19" fill="#c0c0c0" />
<rect x="1315" y="619" width="1" height="17" fill="#c0c0c0" />
<rect x="1323" y="619" width="1" height="17" fill="#c0c0c0" />
<rect x="1331" y="620" width="1" height="16" fill="#c0c0c0" />
<rect x="1339" y="619" width="1" height="17" fill="#c0c0c0" />
<rect x="1347" y="620" width="1" height="16" fill="#c0c0c0" />
<rect x="1355" y="620" width="1" height="16" fill="#c0c0c0" />
<rect x="1363" y="621" width="1" height="15" fill="#c0c0c0" />
<rect x="1371" y="619" width="1" height="17" fill="#c0c0c0" />
<rect x="1379" y="615" width="1" height="21" fill="#c0c0c0" />
<rect x="1387" y="614" width="1" height="22" fill="#c0c0c0" />
<rect x="1395" y="619" width="1" height="17" fill="#c0c0c0" />
<rect x="1403" y="633" width="1" height="3" fill="#c0c0c0" />
<rect x="1411" y="635" width="1" height="6" fill="#c0c0c0" />
<rect x="1419" y="635" width="1" height="6" fill="#c0c0c0" />
</g>
<polyline points="0.0,663.5 12.0,663.5 20.0,661.9 32.3,658.4 50.5,649.3 60.6,641.7 74.7,633.0 90.9,621.5 109.0,612.4 123.2,606.3 139.3,604.7 157.5,604.7 175.7,606.9 201.9,610.4 242.3,609.8 278.6,609.8 290.7,611.5 308.0,617.0 326.1,626.1 344.2,637.8 362.2,652.2 380.3,666.3 398.4,680.2 416.4,693.4 434.5,705.9 452.5,716.7 465.2,722.7 479.6,724.5 494.1,722.7 506.7,718.2 517.6,712.7 530.2,709.5 542.8,708.6 550.0,709.5 560.9,714.0 571.7,720.0 582.6,726.3 589.0,730.3 601.7,732.2 612.5,731.7 627.0,723.9 637.8,714.2 652.2,697.4 670.3,677.5 688.4,660.0 701.0,651.3 713.6,645.4 724.5,639.6 737.1,632.7 748.0,626.1 760.6,618.3 771.4,612.5 780.5,608.9 794.9,606.5 805.8,606.5 820.2,608.4 832.8,609.8 843.7,612.1 858.1,612.5 869.0,611.6 880.0,611.1 942.2,610.3 956.7,608.5 963.9,607.1 982.0,606.2 1005.5,604.4 1012.7,602.9 1028.9,601.3 1041.6,598.4 1059.6,595.7 1075.9,593.5 1083.1,592.3 1093.9,592.3 1108.4,594.1 1121.0,597.5 1133.7,600.4 1148.1,605.8 1160.8,610.7 1173.5,614.9 1191.5,619.4 1209.6,623.9 1225.9,627.9 1240.3,631.1 1256.6,632.9 1272.8,634.2 1287.3,632.7 1299.9,627.9 1312.5,624.6 1325.2,621.2 1341.4,618.5 1363.1,617.9 1384.8,617.4 1402.8,618.8 1415.5,623.3 1419.0,624.5" fill="none" stroke="#ff0000" stroke-width="1" stroke-dasharray="3,3" shape-rendering="crispEdges"/>
<polygon points="1293.6,619.8 1387.4,615.3 1384.7,617.9 1394.5,613.0 1384.3,609.1 1387.2,611.5 1293.4,616.8" fill="#ff0000"/>
<polygon points="1392.9,614.0 1419.6,645.7 1415.8,645.2 1425.8,649.8 1422.7,639.2 1422.6,643.0 1395.1,612.0" fill="#ff0000"/>
<g shape-rendering="crispEdges">
<line x1="2" y1="788.5" x2="1653" y2="788.5" stroke="#c0c0c0" stroke-width="1" stroke-dasharray="3,3"/>
<line x1="2" y1="839.5" x2="1653" y2="839.5" stroke="#c0c0c0" stroke-width="1" stroke-dasharray="3,3"/>
<line x1="2" y1="900.5" x2="1653" y2="900.5" stroke="#c0c0c0" stroke-width="1" stroke-dasharray="3,3"/>
</g>
<polyline points="0.0,841.3 3.5,836.3 11.5,843.4 19.5,838.7 27.5,832.6 35.5,826.3 43.5,833.2 51.5,820.4 59.5,820.4 67.5,822.0 75.5,820.2 83.5,827.1 91.5,826.1 99.5,822.0 107.5,822.0 115.5,823.1 123.5,825.1 131.5,829.2 139.5,830.6 147.5,833.6 155.5,830.6 163.5,831.6 171.5,829.6 179.5,821.0 187.5,813.5 195.5,825.5 203.5,825.5 211.5,823.5 219.5,824.5 227.5,823.5 235.5,819.4 243.5,815.4 251.5,816.4 259.5,825.5 267.5,822.0 275.5,818.4 283.5,837.3 291.5,852.5 299.5,864.3 307.5,861.0 315.5,857.6 323.5,867.3 331.5,864.3 339.5,874.2 347.5,876.0 355.5,877.5 363.5,889.2 371.5,884.7 379.5,878.7 387.5,886.3 395.5,889.5 403.5,882.7 411.5,887.4 419.5,890.5 427.5,893.5 435.5,895.3 443.5,895.3 451.5,896.4 459.5,876.4 467.5,880.0 475.5,854.3 483.5,854.3 491.5,857.4 499.5,859.2 507.5,849.5 515.5,871.1 523.5,879.3 531.5,874.6 539.5,880.0 547.5,881.4 555.5,882.3 563.5,886.3 571.5,884.5 579.5,872.4 587.5,872.2 595.5,868.4 603.5,855.6 611.5,853.4 619.5,830.5 627.5,834.1 635.5,834.1 643.5,836.3 651.5,834.1 659.5,834.1 667.5,836.3 675.5,839.9 683.5,834.5 691.5,833.2 699.5,833.2 707.5,834.5 715.5,827.6 723.5,816.8 731.5,806.5 739.5,805.2 747.5,817.3 755.5,809.2 763.5,819.1 771.5,833.0 779.5,841.1 787.5,840.4 795.5,845.3 803.5,831.4 811.5,828.1 819.5,824.2 827.5,825.4 835.5,825.4 843.5,828.5 851.5,827.2 859.5,826.3 867.5,826.3 875.5,825.4 883.5,822.7 891.5,818.6 899.5,818.2 907.5,813.3 915.5,827.2 923.5,830.5 931.5,824.5 939.5,824.2 947.5,803.4 955.5,804.7 963.5,813.7 971.5,829.0 979.5,824.5 987.5,829.0 995.5,822.4 1003.5,822.4 1011.5,808.6 1019.5,807.4 1027.5,807.4 1035.5,804.1 1043.5,810.1 1051.5,813.3 1059.5,820.4 1067.5,813.3 1075.5,814.2 1083.5,815.5 1091.5,820.4 1099.5,818.2 1107.5,835.0 1115.5,831.2 1123.5,829.0 1131.5,825.1 1139.5,828.1 1147.5,856.7 1155.5,835.4 1163.5,832.3 1171.5,833.2 1179.5,833.2 1187.5,845.3 1195.5,839.9 1203.5,841.3 1211.5,839.3 1219.5,847.1 1227.5,850.7 1235.5,854.9 1243.5,830.0 1251.5,828.1 1259.5,842.6 1267.5,838.1 1275.5,825.4 1283.5,813.3 1291.5,813.3 1299.5,829.0 1307.5,832.3 1315.5,835.7 1323.5,832.3 1331.5,836.3 1339.5,831.4 1347.5,831.4 1355.5,831.4 1363.5,831.4 1371.5,822.7 1379.5,812.4 1387.5,817.3 1395.5,848.9 1403.5,863.9 1411.5,861.6 1419.5,861.6" fill="none" stroke="#1e90ff" stroke-width="1" shape-rendering="crispEdges"/>
<polygon points="1287.2,835.1 1384.7,819.5 1382.4,822.5 1391.5,816.4 1380.9,813.6 1384.1,815.6 1286.8,832.1" fill="#ff0000"/>
<polygon points="1389.6,817.0 1408.3,864.1 1404.9,862.5 1413.0,870.0 1413.5,859.0 1412.2,862.5 1392.4,815.8" fill="#ff0000"/>
<g shape-rendering="crispEdges">
<rect x="1654" y="26" width="44" height="915" fill="#fff" />
<rect x="0" y="25" width="1654" height="1" fill="#000" />
<rect x="1653" y="25" width="1" height="554" fill="#000" />
<rect x="0" y="578" width="1654" height="1" fill="#000" />
<rect x="0" y="580" width="1654" height="1" fill="#000" />
<rect x="1653" y="580" width="1" height="171" fill="#000" />
<rect x="0" y="750" width="1654" height="1" fill="#000" />
<rect x="0" y="752" width="1654" height="1" fill="#000" />
<rect x="1653" y="752" width="1" height="175" fill="#000" />
<rect x="0" y="926" width="1654" height="1" fill="#000" />
<rect x="1699" y="22" width="1" height="919" fill="#e6e6e6" />
<rect x="1654" y="47" width="2" height="1" fill="#000" />
<rect x="1654" y="80" width="2" height="1" fill="#000" />
<rect x="1654" y="113" width="2" height="1" fill="#000" />
<rect x="1654" y="146" width="2" height="1" fill="#000" />
<rect x="1654" y="179" width="2" height="1" fill="#000" />
<rect x="1654" y="212" width="2" height="1" fill="#000" />
<rect x="1654" y="245" width="2" height="1" fill="#000" />
<rect x="1654" y="278" width="2" height="1" fill="#000" />
<rect x="1654" y="311" width="2" height="1" fill="#000" />
<rect x="1654" y="344" width="2" height="1" fill="#000" />
<rect x="1654" y="377" width="2" height="1" fill="#000" />
<rect x="1654" y="410" width="2" height="1" fill="#000" />
<rect x="1654" y="443" width="2" height="1" fill="#000" />
<rect x="1654" y="476" width="2" height="1" fill="#000" />
<rect x="1654" y="509" width="2" height="1" fill="#000" />
<rect x="1654" y="542" width="2" height="1" fill="#000" />
<rect x="1654" y="575" width="2" height="1" fill="#000" />
</g>
<text x="1658.7" y="50.5" font-size="10.2" fill="#000" textLength="33.7" lengthAdjust="spacingAndGlyphs" >153.345</text>
<text x="1658.7" y="83.926" font-size="10.2" fill="#000" textLength="33.7" lengthAdjust="spacingAndGlyphs" >153.075</text>
<text x="1658.7" y="116.733" font-size="10.2" fill="#000" textLength="33.7" lengthAdjust="spacingAndGlyphs" >152.810</text>
<text x="1658.7" y="149.54" font-size="10.2" fill="#000" textLength="33.7" lengthAdjust="spacingAndGlyphs" >152.545</text>
<text x="1658.7" y="182.966" font-size="10.2" fill="#000" textLength="33.7" lengthAdjust="spacingAndGlyphs" >152.275</text>
<text x="1658.7" y="215.773" font-size="10.2" fill="#000" textLength="33.7" lengthAdjust="spacingAndGlyphs" >152.010</text>
<text x="1658.7" y="248.58" font-size="10.2" fill="#000" textLength="33.7" lengthAdjust="spacingAndGlyphs" >151.745</text>
<text x="1658.7" y="347.62" font-size="10.2" fill="#000" textLength="33.7" lengthAdjust="spacingAndGlyphs" >150.945</text>
<text x="1658.7" y="380.427" font-size="10.2" fill="#000" textLength="33.7" lengthAdjust="spacingAndGlyphs" >150.680</text>
<text x="1658.7" y="413.853" font-size="10.2" fill="#000" textLength="33.7" lengthAdjust="spacingAndGlyphs" >150.410</text>
<text x="1658.7" y="446.66" font-size="10.2" fill="#000" textLength="33.7" lengthAdjust="spacingAndGlyphs" >150.145</text>
<text x="1658.7" y="479.467" font-size="10.2" fill="#000" textLength="33.7" lengthAdjust="spacingAndGlyphs" >149.880</text>
<text x="1658.7" y="512.893" font-size="10.2" fill="#000" textLength="33.7" lengthAdjust="spacingAndGlyphs" >149.610</text>
<text x="1658.7" y="545.7" font-size="10.2" fill="#000" textLength="33.7" lengthAdjust="spacingAndGlyphs" >149.345</text>
<text x="1658.7" y="578.507" font-size="10.2" fill="#000" textLength="33.7" lengthAdjust="spacingAndGlyphs" >149.080</text>
<rect x="1655" y="215" width="41" height="11" fill="#ff0000" shape-rendering="crispEdges"/>
<text x="1658.7" y="223.9" font-size="10.2" fill="#fff" textLength="33.7" lengthAdjust="spacingAndGlyphs" >151.938</text>
<rect x="1648.5" y="219.5" width="4" height="4" fill="#fff" stroke="#ff0000" stroke-width="1" shape-rendering="crispEdges"/>
<rect x="1655" y="235" width="41" height="11" fill="#ff0000" shape-rendering="crispEdges"/>
<text x="1658.7" y="243.9" font-size="10.2" fill="#fff" textLength="33.7" lengthAdjust="spacingAndGlyphs" >151.777</text>
<rect x="1648.5" y="239.5" width="4" height="4" fill="#fff" stroke="#ff0000" stroke-width="1" shape-rendering="crispEdges"/>
<rect x="1655" y="256" width="41" height="11" fill="#32cd32" shape-rendering="crispEdges"/>
<text x="1658.7" y="264.9" font-size="10.2" fill="#fff" textLength="33.7" lengthAdjust="spacingAndGlyphs" >151.607</text>
<rect x="1648.5" y="260.5" width="4" height="4" fill="#fff" stroke="#32cd32" stroke-width="1" shape-rendering="crispEdges"/>
<rect x="1655" y="274" width="41" height="11" fill="#000000" shape-rendering="crispEdges"/>
<text x="1658.7" y="282.9" font-size="10.2" fill="#fff" textLength="33.7" lengthAdjust="spacingAndGlyphs" >151.469</text>
<rect x="1655" y="304" width="41" height="11" fill="#0000ff" shape-rendering="crispEdges"/>
<text x="1658.7" y="312.9" font-size="10.2" fill="#fff" textLength="33.7" lengthAdjust="spacingAndGlyphs" >151.221</text>
<rect x="1655" y="326" width="41" height="11" fill="#0000ff" shape-rendering="crispEdges"/>
<text x="1658.7" y="334.9" font-size="10.2" fill="#fff" textLength="33.7" lengthAdjust="spacingAndGlyphs" >151.043</text>
<rect x="1648.5" y="330.5" width="4" height="4" fill="#fff" stroke="#0000ff" stroke-width="1" shape-rendering="crispEdges"/>
<g shape-rendering="crispEdges">
<rect x="1654" y="582" width="2" height="1" fill="#000" />
<rect x="1654" y="635" width="2" height="1" fill="#000" />
</g>
<text x="1656.8" y="590.8" font-size="10.2" fill="#000" textLength="28.6" lengthAdjust="spacingAndGlyphs" >0.3023</text>
<text x="1656.8" y="639.1" font-size="10.2" fill="#000" textLength="18.5" lengthAdjust="spacingAndGlyphs" >0.00</text>
<text x="1656.6" y="747.3" font-size="10.2" fill="#000" textLength="32.2" lengthAdjust="spacingAndGlyphs" >-0.6406</text>
<text x="1656.6" y="763" font-size="10.2" fill="#000" textLength="15.6" lengthAdjust="spacingAndGlyphs" >100</text>
<text x="1656" y="792.2" font-size="10.2" fill="#000" textLength="10.4" lengthAdjust="spacingAndGlyphs" >80</text>
<text x="1656" y="843.3" font-size="10.2" fill="#000" textLength="10.4" lengthAdjust="spacingAndGlyphs" >50</text>
<text x="1656" y="904.6" font-size="10.2" fill="#000" textLength="10.4" lengthAdjust="spacingAndGlyphs" >15</text>
<text x="1656.6" y="923.4" font-size="10.2" fill="#000" >0</text>
<g shape-rendering="crispEdges">
<rect x="59" y="927" width="1" height="3" fill="#000" />
<rect x="123" y="927" width="1" height="3" fill="#000" />
<rect x="187" y="927" width="1" height="3" fill="#000" />
<rect x="251" y="927" width="1" height="3" fill="#000" />
<rect x="315" y="927" width="1" height="3" fill="#000" />
<rect x="379" y="927" width="1" height="3" fill="#000" />
<rect x="443" y="927" width="1" height="3" fill="#000" />
<rect x="507" y="927" width="1" height="3" fill="#000" />
<rect x="571" y="927" width="1" height="3" fill="#000" />
<rect x="635" y="927" width="1" height="3" fill="#000" />
<rect x="699" y="927" width="1" height="3" fill="#000" />
<rect x="763" y="927" width="1" height="3" fill="#000" />
<rect x="827" y="927" width="1" height="3" fill="#000" />
<rect x="891" y="927" width="1" height="3" fill="#000" />
<rect x="955" y="927" width="1" height="3" fill="#000" />
<rect x="1019" y="927" width="1" height="3" fill="#000" />
<rect x="1083" y="927" width="1" height="3" fill="#000" />
<rect x="1147" y="927" width="1" height="3" fill="#000" />
<rect x="1211" y="927" width="1" height="3" fill="#000" />
<rect x="1275" y="927" width="1" height="3" fill="#000" />
<rect x="1339" y="927" width="1" height="3" fill="#000" />
<rect x="1403" y="927" width="1" height="3" fill="#000" />
</g>
<text x="58.1" y="938.6" font-size="10.2" fill="#000" textLength="51.1" lengthAdjust="spacingAndGlyphs" >5 Aug 16:00</text>
<text x="122.1" y="938.6" font-size="10.2" fill="#000" textLength="51.1" lengthAdjust="spacingAndGlyphs" >9 Aug 00:00</text>
<text x="186.1" y="938.6" font-size="10.2" fill="#000" textLength="57.1" lengthAdjust="spacingAndGlyphs" >10 Aug 08:00</text>
<text x="250.1" y="938.6" font-size="10.2" fill="#000" textLength="57.1" lengthAdjust="spacingAndGlyphs" >11 Aug 16:00</text>
<text x="314.1" y="938.6" font-size="10.2" fill="#000" textLength="57.1" lengthAdjust="spacingAndGlyphs" >13 Aug 00:00</text>
<text x="378.1" y="938.6" font-size="10.2" fill="#000" textLength="57.1" lengthAdjust="spacingAndGlyphs" >16 Aug 08:00</text>
<text x="442.1" y="938.6" font-size="10.2" fill="#000" textLength="57.1" lengthAdjust="spacingAndGlyphs" >17 Aug 16:00</text>
<text x="506.1" y="938.6" font-size="10.2" fill="#000" textLength="57.1" lengthAdjust="spacingAndGlyphs" >19 Aug 00:00</text>
<text x="570.1" y="938.6" font-size="10.2" fill="#000" textLength="57.1" lengthAdjust="spacingAndGlyphs" >20 Aug 08:00</text>
<text x="634.1" y="938.6" font-size="10.2" fill="#000" textLength="57.1" lengthAdjust="spacingAndGlyphs" >23 Aug 16:00</text>
<text x="698.1" y="938.6" font-size="10.2" fill="#000" textLength="57.1" lengthAdjust="spacingAndGlyphs" >25 Aug 00:00</text>
<text x="762.1" y="938.6" font-size="10.2" fill="#000" textLength="57.1" lengthAdjust="spacingAndGlyphs" >26 Aug 08:00</text>
<text x="826.1" y="938.6" font-size="10.2" fill="#000" textLength="57.1" lengthAdjust="spacingAndGlyphs" >27 Aug 16:00</text>
<text x="890.1" y="938.6" font-size="10.2" fill="#000" textLength="57.1" lengthAdjust="spacingAndGlyphs" >31 Aug 00:00</text>
<text x="954.1" y="938.6" font-size="10.2" fill="#000" textLength="51.1" lengthAdjust="spacingAndGlyphs" >1 Sep 08:00</text>
<text x="1018.1" y="938.6" font-size="10.2" fill="#000" textLength="51.1" lengthAdjust="spacingAndGlyphs" >2 Sep 16:00</text>
<text x="1082.1" y="938.6" font-size="10.2" fill="#000" textLength="51.1" lengthAdjust="spacingAndGlyphs" >6 Sep 00:00</text>
<text x="1146.1" y="938.6" font-size="10.2" fill="#000" textLength="51.1" lengthAdjust="spacingAndGlyphs" >7 Sep 08:00</text>
<text x="1210.1" y="938.6" font-size="10.2" fill="#000" textLength="51.1" lengthAdjust="spacingAndGlyphs" >8 Sep 16:00</text>
<text x="1274.1" y="938.6" font-size="10.2" fill="#000" textLength="57.1" lengthAdjust="spacingAndGlyphs" >10 Sep 00:00</text>
<text x="1338.1" y="938.6" font-size="10.2" fill="#000" textLength="57.1" lengthAdjust="spacingAndGlyphs" >13 Sep 08:00</text>
<text x="1402.1" y="938.6" font-size="10.2" fill="#000" textLength="57.1" lengthAdjust="spacingAndGlyphs" >14 Sep 16:00</text>
<text x="-5.6" y="938.6" font-size="10.2" fill="#000" textLength="47.8" lengthAdjust="spacingAndGlyphs" >4 Aug 2021</text>
<text x="0" y="592.8" font-size="10.2" fill="#000" textLength="130.5" lengthAdjust="spacingAndGlyphs" >MACD(12,26,9) -0.0726 0.0607</text>
<text x="0" y="764.6" font-size="10.2" fill="#000" textLength="67.5" lengthAdjust="spacingAndGlyphs" >RSI(14) 37.7900</text>
<defs>
<linearGradient id="gb1" x1="0" y1="0" x2="0" y2="1"><stop offset="0" stop-color="#5a5af6"/><stop offset="1" stop-color="#3a3ae0"/></linearGradient>
<linearGradient id="gb2" x1="0" y1="0" x2="0" y2="1"><stop offset="0" stop-color="#3030dc"/><stop offset="1" stop-color="#0808ac"/></linearGradient>
<linearGradient id="gg" x1="0" y1="0" x2="0" y2="1"><stop offset="0" stop-color="#f2f2f2"/><stop offset="0.5" stop-color="#dddddd"/><stop offset="0.5" stop-color="#cfcfcf"/><stop offset="1" stop-color="#d8d8d8"/></linearGradient>
</defs>
<g shape-rendering="crispEdges">
<rect x="0" y="44" width="219" height="60" fill="#fff" />
<rect x="0" y="45" width="50" height="25" fill="url(#gb1)" />
<rect x="165" y="45" width="52" height="25" fill="url(#gb1)" />
<rect x="0" y="69" width="107" height="33" fill="url(#gb2)" />
<rect x="109" y="69" width="108" height="33" fill="url(#gb2)" />
<rect x="0" y="45" width="50" height="24" fill="url(#gb1)" />
<rect x="165" y="45" width="52" height="24" fill="url(#gb1)" />
<rect x="0" y="45" width="50" height="1" fill="#2a2ad0" />
<rect x="165" y="45" width="52" height="1" fill="#2a2ad0" />
<rect x="49" y="45" width="1" height="24" fill="#2a2ad0" />
<rect x="165" y="45" width="1" height="24" fill="#2a2ad0" />
<rect x="216" y="45" width="1" height="57" fill="#1a1ab8" />
<rect x="2" y="69" width="44" height="1" fill="#a8a8ff" />
<rect x="169" y="69" width="44" height="1" fill="#a8a8ff" />
<rect x="52" y="45" width="112" height="22" fill="#a8a8a8" />
<rect x="53" y="46" width="110" height="20" fill="#fff" />
<rect x="53" y="46" width="20" height="20" fill="url(#gg)" />
<rect x="142" y="46" width="21" height="20" fill="url(#gg)" />
<rect x="73" y="46" width="1" height="20" fill="#b8b8b8" />
<rect x="141" y="46" width="1" height="20" fill="#b8b8b8" />
</g>
<polygon points="60,54 65.4,54 62.7,57.2" fill="#4858c8"/>
<polygon points="149.5,57 155,57 152.2,53.8" fill="#4858c8"/>
<text x="10.6" y="60.3" font-size="11.6" fill="#fff" textLength="25.5" lengthAdjust="spacingAndGlyphs" >SELL</text>
<text x="178.7" y="60.3" font-size="11.6" fill="#fff" textLength="23.3" lengthAdjust="spacingAndGlyphs" >BUY</text>
<text x="137.5" y="60" font-size="12" fill="#000" textLength="23" lengthAdjust="spacingAndGlyphs" text-anchor="end" >1.00</text>
<text x="21.7" y="97" font-size="12.3" fill="#fff" textLength="20.3" lengthAdjust="spacingAndGlyphs" font-weight="bold" >151</text>
<text x="131.7" y="97" font-size="12.3" fill="#fff" textLength="20.3" lengthAdjust="spacingAndGlyphs" font-weight="bold" >151</text>
<text x="44.5" y="97" font-size="33" fill="#fff" textLength="36" lengthAdjust="spacingAndGlyphs" >46</text>
<text x="157.5" y="97" font-size="33" fill="#fff" textLength="35" lengthAdjust="spacingAndGlyphs" >51</text>
<text x="85.4" y="81.3" font-size="11.5" fill="#fff" textLength="6.8" lengthAdjust="spacingAndGlyphs" font-weight="bold" >9</text>
<text x="196.2" y="80.6" font-size="11.5" fill="#fff" textLength="6.8" lengthAdjust="spacingAndGlyphs" font-weight="bold" >9</text>
<polygon points="-2,36.4 1.6,32 5.2,36.4" fill="#000"/>
<text x="9.7" y="36.7" font-size="9.9" fill="#000" textLength="200.2" lengthAdjust="spacingAndGlyphs" >GBPJPY-,H4&#160;&#160;151.462 151.470 151.446 151.469</text>
<g shape-rendering="crispEdges">
<rect x="0" y="0" width="1700" height="20" fill="#f0f0f0" />
<rect x="0" y="20" width="1700" height="1" fill="#e4e4e4" />
<rect x="0" y="21" width="1700" height="1" fill="#a0a0a0" />
<rect x="0" y="22" width="1699" height="1" fill="#6a6a6a" />
<rect x="0" y="23" width="1699" height="2" fill="#fff" />
<rect x="14" y="1" width="1" height="18" fill="#a0a0a0" />
<rect x="250" y="1" width="1" height="18" fill="#a0a0a0" />
<rect x="288" y="1" width="1" height="18" fill="#a0a0a0" />
<rect x="345" y="1" width="1" height="18" fill="#a0a0a0" />
<rect x="435" y="1" width="1" height="18" fill="#a0a0a0" />
<rect x="440" y="1" width="1" height="18" fill="#a0a0a0" />
<rect x="468" y="1" width="1" height="18" fill="#a0a0a0" />
<rect x="497" y="1" width="1" height="18" fill="#a0a0a0" />
<rect x="618" y="1" width="1" height="18" fill="#a0a0a0" />
<rect x="628" y="1" width="1" height="18" fill="#a0a0a0" />
<rect x="685" y="1" width="1" height="18" fill="#a0a0a0" />
<rect x="924" y="1" width="1" height="18" fill="#a0a0a0" />
<rect x="1074" y="1" width="1" height="18" fill="#a0a0a0" />
<rect x="1186" y="1" width="1" height="18" fill="#a0a0a0" />
<rect x="254" y="2" width="3" height="1" fill="#b0b0b0" />
<rect x="254" y="4" width="3" height="1" fill="#b0b0b0" />
<rect x="254" y="6" width="3" height="1" fill="#b0b0b0" />
<rect x="254" y="8" width="3" height="1" fill="#b0b0b0" />
<rect x="254" y="10" width="3" height="1" fill="#b0b0b0" />
<rect x="254" y="12" width="3" height="1" fill="#b0b0b0" />
<rect x="254" y="14" width="3" height="1" fill="#b0b0b0" />
<rect x="254" y="16" width="3" height="1" fill="#b0b0b0" />
<rect x="622" y="2" width="3" height="1" fill="#b0b0b0" />
<rect x="622" y="4" width="3" height="1" fill="#b0b0b0" />
<rect x="622" y="6" width="3" height="1" fill="#b0b0b0" />
<rect x="622" y="8" width="3" height="1" fill="#b0b0b0" />
<rect x="622" y="10" width="3" height="1" fill="#b0b0b0" />
<rect x="622" y="12" width="3" height="1" fill="#b0b0b0" />
<rect x="622" y="14" width="3" height="1" fill="#b0b0b0" />
<rect x="622" y="16" width="3" height="1" fill="#b0b0b0" />
<rect x="928" y="2" width="3" height="1" fill="#b0b0b0" />
<rect x="928" y="4" width="3" height="1" fill="#b0b0b0" />
<rect x="928" y="6" width="3" height="1" fill="#b0b0b0" />
<rect x="928" y="8" width="3" height="1" fill="#b0b0b0" />
<rect x="928" y="10" width="3" height="1" fill="#b0b0b0" />
<rect x="928" y="12" width="3" height="1" fill="#b0b0b0" />
<rect x="928" y="14" width="3" height="1" fill="#b0b0b0" />
<rect x="928" y="16" width="3" height="1" fill="#b0b0b0" />
<rect x="289" y="0" width="24" height="20" fill="#f8f8f8" />
<rect x="440" y="0" width="26" height="20" fill="#f8f8f8" />
<rect x="469" y="0" width="25" height="20" fill="#f8f8f8" />
<rect x="629" y="0" width="25" height="20" fill="#f8f8f8" />
<rect x="1076" y="0" width="23" height="20" fill="#f8f8f8" />
</g>
<text class="cjk" x="43.3" y="12.4" font-size="11.7" fill="#000" textLength="35.5" lengthAdjust="spacingAndGlyphs">新订单</text>
<text class="cjk" x="196.5" y="12.4" font-size="11.7" fill="#000" textLength="46" lengthAdjust="spacingAndGlyphs">自动交易</text>
<text x="939.6" y="13" font-size="9.6" fill="#505050" textLength="12.6" lengthAdjust="spacingAndGlyphs" >M1</text>
<text x="967.8" y="13" font-size="9.6" fill="#505050" textLength="12.6" lengthAdjust="spacingAndGlyphs" >M5</text>
<text x="993.7" y="13" font-size="9.6" fill="#505050" textLength="17.5" lengthAdjust="spacingAndGlyphs" >M15</text>
<text x="1021.8" y="13" font-size="9.6" fill="#505050" textLength="17.7" lengthAdjust="spacingAndGlyphs" >M30</text>
<text x="1052.9" y="13" font-size="9.6" fill="#505050" textLength="11.3" lengthAdjust="spacingAndGlyphs" >H1</text>
<text x="1079.3" y="13" font-size="9.6" fill="#505050" textLength="13" lengthAdjust="spacingAndGlyphs" >H4</text>
<text x="1108.3" y="13" font-size="9.6" fill="#505050" textLength="12.3" lengthAdjust="spacingAndGlyphs" >D1</text>
<text x="1135.8" y="13" font-size="9.6" fill="#505050" textLength="14.8" lengthAdjust="spacingAndGlyphs" >W1</text>
<text x="1163" y="13" font-size="9.6" fill="#505050" textLength="14.8" lengthAdjust="spacingAndGlyphs" >MN</text>
<circle cx="-1" cy="7" r="4.5" fill="#cfe4f8" stroke="#5b8fd0" stroke-width="1.5"/><line x1="2.5" y1="11.5" x2="6" y2="17" stroke="#d9a63a" stroke-width="2.2"/>
<path d="M24.5 2.5 h8 l3.5 3.5 v8.5 h-11.5 z" fill="#fff" stroke="#808080" stroke-width="1"/><path d="M32.5 2.5 v3.5 h3.5" fill="#e8e8e8" stroke="#808080" stroke-width="1"/>
<g stroke="#9a9a9a" stroke-width="1"><line x1="27" y1="6.5" x2="31" y2="6.5"/><line x1="27" y1="9.5" x2="32" y2="9.5"/></g>
<path d="M32 8.5 h4 v3.5 h3.5 v4 h-3.5 v3 h-4 v-3 h-3.5 v-4 h3.5 z" fill="#2ecc2e" stroke="#0a8a0a" stroke-width="0.8"/>
<defs><linearGradient id="gbk" x1="0" y1="0" x2="1" y2="1"><stop offset="0" stop-color="#d9a326"/><stop offset="0.45" stop-color="#ffe05a"/><stop offset="1" stop-color="#c98d18"/></linearGradient><radialGradient id="gsig" cx="0.5" cy="0.5" r="0.5"><stop offset="0" stop-color="#cfe8d8"/><stop offset="1" stop-color="#7fbf95"/></radialGradient><linearGradient id="ghat" x1="0" y1="0" x2="0" y2="1"><stop offset="0" stop-color="#7cc0ee"/><stop offset="1" stop-color="#2f7fc8"/></linearGradient></defs>
<path d="M91.1 10.7 L96.7 2.3 L107 9.7 L98.9 16.5 Z" fill="url(#gbk)" stroke="#a8781a" stroke-width="0.8"/>
<path d="M91.6 11.6 L98.9 17.3 L107 10.6" fill="none" stroke="#8a5a12" stroke-width="1.4"/>
<path d="M99.6 16 L106.4 10.4" fill="none" stroke="#f4ead0" stroke-width="0.7"/>
<path d="M121 3 l3 -1.7 h8 v8.5 h-11 z" fill="#2a96ff" stroke="#1f6fd0" stroke-width="0.6"/><path d="M124 1.3 v8.5" stroke="#9fd2ff" stroke-width="0.8"/><rect x="126" y="4.2" width="4.5" height="1.4" fill="#d8eeff"/>
<path d="M121.5 16.5 a2.6 2.6 0 0 1 0.2 -5.2 a3.6 3.6 0 0 1 6.6 -1.2 a3 3 0 0 1 4.6 2.4 a2.2 2.2 0 0 1 -0.4 4 z" fill="#eef3fb" stroke="#4f74b4" stroke-width="0.9"/>
<path d="M155 0.8 a7.8 7.8 0 0 1 0 15.6 z" fill="url(#gsig)" opacity="0.9"/>
<g fill="none"><circle cx="155" cy="8.5" r="7.3" stroke="#7fa0dc" stroke-width="1" stroke-dasharray="2.5,1.2"/><circle cx="155" cy="8.5" r="4.6" stroke="#4f7fd8" stroke-width="1.2" stroke-dasharray="3,1"/></g>
<circle cx="155" cy="8.5" r="2" fill="#2a5fd0"/><path d="M155.4 9 v7.6" stroke="#22a022" stroke-width="1.6" fill="none"/><path d="M155.4 16.6 a8 8 0 0 0 6 -3.4" stroke="#3cb04c" stroke-width="1.2" fill="none"/>
<path d="M175 8 h14.5 l-8 8.8 z" fill="#ffe14a" stroke="#d9a818" stroke-width="0.7"/>
<ellipse cx="182.2" cy="6.2" rx="7.8" ry="2.6" fill="url(#ghat)" stroke="#2f74b8" stroke-width="0.6"/><path d="M178.3 5.6 a3.9 4.3 0 0 1 7.8 0 z" fill="url(#ghat)" stroke="#2f74b8" stroke-width="0.5"/>
<circle cx="186.6" cy="12.6" r="4.1" fill="#e02a18" stroke="#a81a0c" stroke-width="0.6"/><rect x="184.9" y="10.9" width="3.4" height="3.4" fill="#fff"/>
<g stroke="#555" stroke-width="1" fill="none" shape-rendering="crispEdges"><line x1="268.5" y1="3" x2="268.5" y2="17"/><line x1="266" y1="14.5" x2="280" y2="14.5"/></g>
<polygon points="268.5,2 266.5,5 270.5,5" fill="#555"/><polygon points="281,14.5 278,12.5 278,16.5" fill="#555"/>
<g stroke="#1ea01e" stroke-width="1.6" fill="none"><line x1="275" y1="4" x2="275" y2="12"/><line x1="275" y1="5" x2="278" y2="5"/><line x1="272" y1="11" x2="275" y2="11"/></g>
<g stroke="#555" stroke-width="1" fill="none" shape-rendering="crispEdges"><line x1="296.5" y1="3" x2="296.5" y2="17"/><line x1="294" y1="14.5" x2="308" y2="14.5"/></g>
<polygon points="296.5,2 294.5,5 298.5,5" fill="#555"/><polygon points="309,14.5 306,12.5 306,16.5" fill="#555"/>
<line x1="302.5" y1="1.5" x2="302.5" y2="13" stroke="#107010" stroke-width="1"/><rect x="300.5" y="3.5" width="4" height="7" fill="#2ed02e" stroke="#107010" stroke-width="1"/>
<g stroke="#555" stroke-width="1" fill="none" shape-rendering="crispEdges"><line x1="324.5" y1="3" x2="324.5" y2="17"/><line x1="322" y1="14.5" x2="336" y2="14.5"/></g>
<polygon points="324.5,2 322.5,5 326.5,5" fill="#555"/><polygon points="337,14.5 334,12.5 334,16.5" fill="#555"/>
<path d="M323 12 q4 -1 7 -5.5 q2 -1.5 5 3.5" fill="none" stroke="#1ea01e" stroke-width="1.3"/>
<line x1="364" y1="11" x2="369.5" y2="16" stroke="#d4a017" stroke-width="2.6" stroke-linecap="round"/>
<circle cx="360" cy="6.5" r="5" fill="#d6eaff" stroke="#3f7fd0" stroke-width="1.4"/>
<line x1="357.3" y1="6.5" x2="362.7" y2="6.5" stroke="#2a62b8" stroke-width="1.5"/>
<line x1="360" y1="3.8" x2="360" y2="9.2" stroke="#2a62b8" stroke-width="1.5"/>
<line x1="392" y1="11" x2="397.5" y2="16" stroke="#d4a017" stroke-width="2.6" stroke-linecap="round"/>
<circle cx="388" cy="6.5" r="5" fill="#d6eaff" stroke="#3f7fd0" stroke-width="1.4"/>
<line x1="385.3" y1="6.5" x2="390.7" y2="6.5" stroke="#2a62b8" stroke-width="1.5"/>
<rect x="410" y="1" width="7.5" height="7.5" fill="#5cae2c" stroke="#3f8a18" stroke-width="0.6"/><rect x="411.5" y="4" width="4.5" height="3" fill="#fff" opacity="0.9"/>
<rect x="418.5" y="1" width="7.5" height="7.5" fill="#2f62d0" stroke="#1f48a8" stroke-width="0.6"/><rect x="420.0" y="4" width="4.5" height="3" fill="#fff" opacity="0.9"/>
<rect x="410" y="9.5" width="7.5" height="7.5" fill="#2f62d0" stroke="#1f48a8" stroke-width="0.6"/><rect x="411.5" y="12.5" width="4.5" height="3" fill="#fff" opacity="0.9"/>
<rect x="418.5" y="9.5" width="7.5" height="7.5" fill="#5cae2c" stroke="#3f8a18" stroke-width="0.6"/><rect x="420.0" y="12.5" width="4.5" height="3" fill="#fff" opacity="0.9"/>
<g stroke="#555" stroke-width="1" fill="none" shape-rendering="crispEdges"><line x1="448.5" y1="3" x2="448.5" y2="17"/><line x1="446" y1="14.5" x2="460" y2="14.5"/></g>
<polygon points="448.5,2 446.5,5 450.5,5" fill="#555"/><polygon points="461,14.5 458,12.5 458,16.5" fill="#555"/>
<polygon points="453.5,5 453.5,11 457.5,8" fill="#aef0ae" stroke="#1ea01e" stroke-width="1"/>
<g stroke="#555" stroke-width="1" fill="none" shape-rendering="crispEdges"><line x1="476.5" y1="3" x2="476.5" y2="17"/><line x1="474" y1="14.5" x2="488" y2="14.5"/></g>
<polygon points="476.5,2 474.5,5 478.5,5" fill="#555"/><polygon points="489,14.5 486,12.5 486,16.5" fill="#555"/>
<line x1="482.5" y1="3" x2="482.5" y2="13" stroke="#2a62b8" stroke-width="1"/><path d="M488 8.5 h-4 m2 -2 l-2 2 l2 2" stroke="#d04010" stroke-width="1.2" fill="none"/>
<path d="M508.5 2.5 h6 l3 3 v9 h-9 z" fill="#fff" stroke="#808080"/><text x="510" y="11" font-size="8" font-style="italic" fill="#606060">f</text>
<path d="M515.5 7.5 h4 v3.5 h3.5 v4 h-3.5 v3.5 h-4 v-3.5 h-3.5 v-4 h3.5 z" fill="#2ecc2e" stroke="#0a8a0a" stroke-width="0.8"/>
<polygon points="529,7.5 534,7.5 531.5,10.5" fill="#000"/>
<circle cx="553" cy="9" r="7.3" fill="#2a6fd8" stroke="#1a4fa8" stroke-width="1"/><circle cx="553" cy="9" r="4.8" fill="#f4f8ff"/><path d="M553 5.5 v3.8 h2.5" fill="none" stroke="#333" stroke-width="1"/>
<polygon points="568,7.5 573,7.5 570.5,10.5" fill="#000"/>
<rect x="584.5" y="2.5" width="15" height="13" fill="#fff" stroke="#3f7fd0" stroke-width="1"/><rect x="584.5" y="2.5" width="15" height="2" fill="#3f7fd0"/><path d="M586.5 8.5 l3 -1 l3 0.5 l3 -1.5 l2 0.5" fill="none" stroke="#c03020" stroke-width="1.1"/><path d="M586.5 13 l3 -1 l2 1.5 l3 -2.5 l3 2" fill="none" stroke="#1ea01e" stroke-width="1.1"/>
<polygon points="607,7.5 612,7.5 609.5,10.5" fill="#000"/>
<polygon points="636,2 636,14 639,11.3 641.3,16.3 643.2,15.4 641,10.6 644.6,10.3" fill="#444"/>
<g stroke="#444" stroke-width="1" shape-rendering="crispEdges"><line x1="668.5" y1="2" x2="668.5" y2="8"/><line x1="668.5" y1="11" x2="668.5" y2="17"/><line x1="661" y1="9.5" x2="667" y2="9.5"/><line x1="670" y1="9.5" x2="676" y2="9.5"/></g>
<g stroke="#505050" stroke-width="1"><line x1="702.5" y1="3" x2="702.5" y2="16"/><line x1="725" y1="9.5" x2="737" y2="9.5"/><line x1="753" y1="16" x2="765.5" y2="4"/></g>
<g stroke="#444" stroke-width="1"><line x1="779" y1="11" x2="791" y2="2.5"/><line x1="781" y1="15" x2="793" y2="6.5"/><line x1="781" y1="8" x2="781" y2="15"/><line x1="784.5" y1="5.5" x2="784.5" y2="13"/><line x1="788" y1="3" x2="788" y2="10.5"/><line x1="791" y1="1.5" x2="791" y2="8"/></g>
<text x="789.5" y="17.5" font-size="6.5" fill="#333" font-weight="bold" >E</text>
<g stroke="#444" stroke-width="1" stroke-dasharray="1,1" shape-rendering="crispEdges"><line x1="808" y1="2.5" x2="821" y2="2.5"/><line x1="808" y1="5.5" x2="821" y2="5.5"/><line x1="808" y1="9.5" x2="821" y2="9.5"/><line x1="808" y1="13.5" x2="817" y2="13.5"/></g>
<text x="817.5" y="17.5" font-size="6.5" fill="#333" font-weight="bold" >F</text>
<text x="838.6" y="13.5" font-size="11.5" fill="#555" textLength="8.4" lengthAdjust="spacingAndGlyphs" font-weight="bold" >A</text>
<rect x="864.5" y="2.5" width="12" height="13" fill="none" stroke="#555" stroke-width="1" stroke-dasharray="1,1" shape-rendering="crispEdges"/>
<text x="866.6" y="13.5" font-size="11.5" fill="#555" textLength="8" lengthAdjust="spacingAndGlyphs" font-weight="bold" >T</text>
<polygon points="894.5,2.5 897.5,5.5 894.5,8.5 891.5,5.5" fill="#444"/><polygon points="903,9.5 906,12.5 903,15.5 900,12.5" fill="#444"/><path d="M894 9.5 l2 3 l5 -6" fill="none" stroke="#444" stroke-width="1.2"/>
<polygon points="913,7.5 918,7.5 915.5,10.5" fill="#000"/>
<circle cx="1655.6" cy="6.5" r="4" fill="#f4f8ff" stroke="#2a5fd0" stroke-width="1.5"/><line x1="1652.5" y1="9.7" x2="1647.8" y2="14" stroke="#2a5fd0" stroke-width="2.4"/>
<path d="M1673 8 h10 a2 2 0 0 1 2 2 v3 a2 2 0 0 1 -2 2 h-6 l-2 2.5 v-2.5 h-2 a2 2 0 0 1 -2 -2 v-3 a2 2 0 0 1 2 -2z" fill="#e4e6ee" stroke="#b8bcc8" stroke-width="0.8"/>
<circle cx="1686.5" cy="7" r="8" fill="#e03a22"/>
<text x="1683.2" y="12" font-size="13" fill="#fff" textLength="6" lengthAdjust="spacingAndGlyphs" >1</text>
</svg>
</body></html>
